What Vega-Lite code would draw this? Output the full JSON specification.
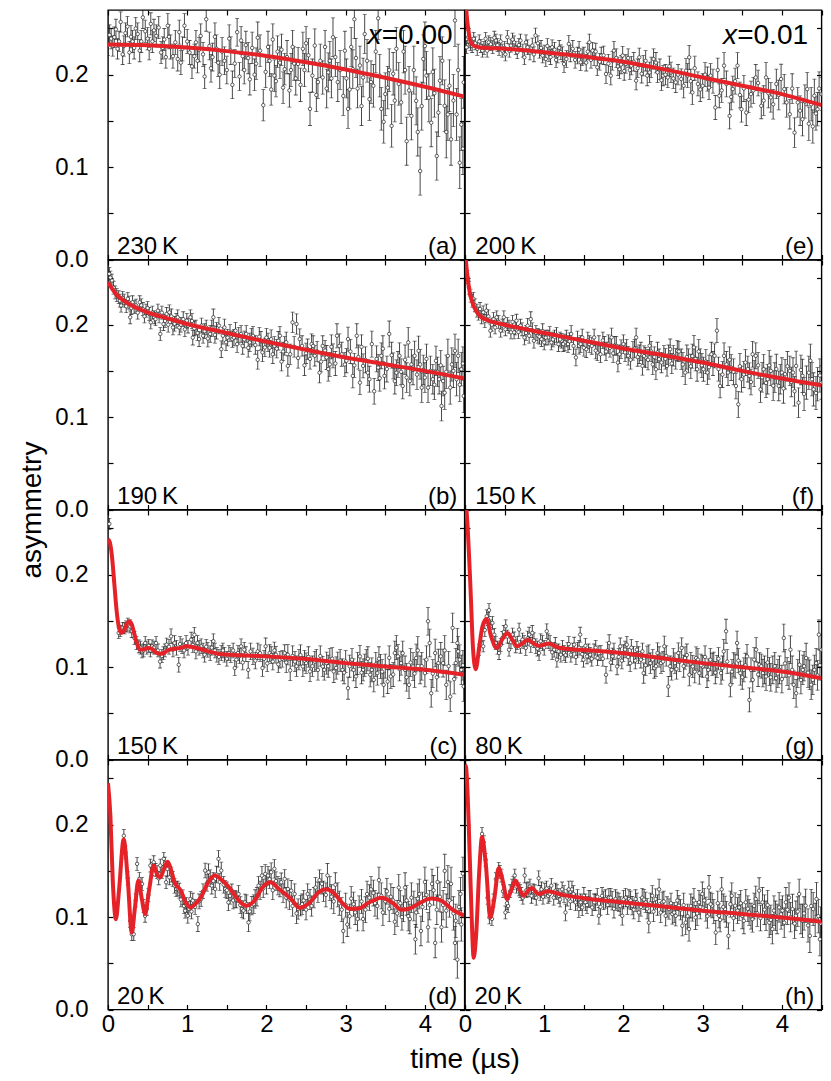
{
"$schema":"https://vega.github.io/schema/vega-lite/v6.json",
"background":"white",
"padding":{"left":17,"top":8,"right":5,"bottom":5},
"config":{
 "font":"Liberation Sans",
 "view":{"stroke":"black","strokeWidth":1.4},
 "axis":{"domain":false,"grid":false,"ticks":true,"tickSize":-5,"tickColor":"black","tickWidth":1.2,"labelFont":"Liberation Sans","labelFontSize":24,"labelColor":"black","labelFlush":false,"labelOverlap":false,"titleFont":"Liberation Sans","titleFontSize":28,"titleFontWeight":"normal","titleColor":"black"},
 "axisX":{"labelPadding":7.5},
 "axisY":{"labelPadding":25}
},
"datasets":{
"labels":[{"p":"a","temp":"230\u2009K","tag":"(a)","comp":"=0.00"},{"p":"b","temp":"190\u2009K","tag":"(b)"},{"p":"c","temp":"150\u2009K","tag":"(c)"},{"p":"d","temp":"20\u2009K","tag":"(d)"},{"p":"e","temp":"200\u2009K","tag":"(e)","comp":"=0.01"},{"p":"f","temp":"150\u2009K","tag":"(f)"},{"p":"g","temp":"80\u2009K","tag":"(g)"},{"p":"h","temp":"20\u2009K","tag":"(h)"}],
"fit":[
{"p":"a","t":0,"y":0.2326},{"p":"a","t":0.5,"y":0.2318},{"p":"a","t":1,"y":0.2294},{"p":"a","t":1.5,"y":0.2255},{"p":"a","t":2,"y":0.2202},{"p":"a","t":2.5,"y":0.2135},{"p":"a","t":3,"y":0.2057},{"p":"a","t":3.5,"y":0.1967},{"p":"a","t":4,"y":0.1869},{"p":"a","t":4.5,"y":0.1762},
{"p":"e","t":0,"y":0.30},{"p":"e","t":0.02,"y":0.266},{"p":"e","t":0.04,"y":0.25},{"p":"e","t":0.06,"y":0.239},{"p":"e","t":0.08,"y":0.234},{"p":"e","t":0.12,"y":0.231},{"p":"e","t":0.2,"y":0.2295},{"p":"e","t":0.5,"y":0.228},{"p":"e","t":1,"y":0.2243},{"p":"e","t":1.5,"y":0.2196},{"p":"e","t":2,"y":0.2141},{"p":"e","t":2.5,"y":0.206},{"p":"e","t":3,"y":0.197},{"p":"e","t":3.5,"y":0.188},{"p":"e","t":4,"y":0.179},{"p":"e","t":4.5,"y":0.167},
{"p":"b","t":0,"y":0.246},{"p":"b","t":0.1,"y":0.2333},{"p":"b","t":0.2,"y":0.226},{"p":"b","t":0.3,"y":0.2207},{"p":"b","t":0.5,"y":0.2134},{"p":"b","t":0.75,"y":0.2069},{"p":"b","t":1,"y":0.2007},{"p":"b","t":1.5,"y":0.191},{"p":"b","t":2,"y":0.1815},{"p":"b","t":2.5,"y":0.1728},{"p":"b","t":3,"y":0.1645},{"p":"b","t":3.5,"y":0.1572},{"p":"b","t":4,"y":0.15},{"p":"b","t":4.5,"y":0.1417},
{"p":"f","t":0,"y":0.28},{"p":"f","t":0.03,"y":0.253},{"p":"f","t":0.06,"y":0.235},{"p":"f","t":0.1,"y":0.2225},{"p":"f","t":0.15,"y":0.2134},{"p":"f","t":0.2,"y":0.2087},{"p":"f","t":0.3,"y":0.2043},{"p":"f","t":0.5,"y":0.2},{"p":"f","t":1,"y":0.191},{"p":"f","t":1.5,"y":0.1826},{"p":"f","t":2,"y":0.1743},{"p":"f","t":2.5,"y":0.167},{"p":"f","t":3,"y":0.159},{"p":"f","t":3.5,"y":0.15},{"p":"f","t":4,"y":0.1417},{"p":"f","t":4.5,"y":0.1344},
{"p":"c","t":0,"y":0.238},{"p":"c","t":0.02,"y":0.236},{"p":"c","t":0.05,"y":0.22},{"p":"c","t":0.08,"y":0.19},{"p":"c","t":0.11,"y":0.16},{"p":"c","t":0.14,"y":0.142},{"p":"c","t":0.17,"y":0.137},{"p":"c","t":0.2,"y":0.139},{"p":"c","t":0.24,"y":0.147},{"p":"c","t":0.27,"y":0.1496},{"p":"c","t":0.3,"y":0.146},{"p":"c","t":0.33,"y":0.137},{"p":"c","t":0.36,"y":0.127},{"p":"c","t":0.4,"y":0.119},{"p":"c","t":0.45,"y":0.119},{"p":"c","t":0.5,"y":0.1207},{"p":"c","t":0.55,"y":0.12},{"p":"c","t":0.6,"y":0.116},{"p":"c","t":0.65,"y":0.1145},{"p":"c","t":0.7,"y":0.115},{"p":"c","t":0.75,"y":0.118},{"p":"c","t":0.82,"y":0.1196},{"p":"c","t":0.9,"y":0.1205},{"p":"c","t":1,"y":0.1225},{"p":"c","t":1.1,"y":0.121},{"p":"c","t":1.2,"y":0.1188},{"p":"c","t":1.3,"y":0.1162},{"p":"c","t":1.41,"y":0.1141},{"p":"c","t":1.6,"y":0.113},{"p":"c","t":2,"y":0.1116},{"p":"c","t":2.5,"y":0.1087},{"p":"c","t":3,"y":0.1043},{"p":"c","t":3.5,"y":0.1007},{"p":"c","t":4,"y":0.0971},{"p":"c","t":4.5,"y":0.0917},
{"p":"g","t":0,"y":0.29},{"p":"g","t":0.03,"y":0.256},{"p":"g","t":0.07,"y":0.184},{"p":"g","t":0.1,"y":0.122},{"p":"g","t":0.135,"y":0.0978},{"p":"g","t":0.18,"y":0.122},{"p":"g","t":0.22,"y":0.144},{"p":"g","t":0.27,"y":0.152},{"p":"g","t":0.33,"y":0.133},{"p":"g","t":0.4,"y":0.1207},{"p":"g","t":0.47,"y":0.13},{"p":"g","t":0.535,"y":0.137},{"p":"g","t":0.6,"y":0.129},{"p":"g","t":0.66,"y":0.1225},{"p":"g","t":0.73,"y":0.126},{"p":"g","t":0.79,"y":0.1297},{"p":"g","t":0.86,"y":0.126},{"p":"g","t":0.93,"y":0.123},{"p":"g","t":1,"y":0.1245},{"p":"g","t":1.06,"y":0.1254},{"p":"g","t":1.15,"y":0.122},{"p":"g","t":1.3,"y":0.1195},{"p":"g","t":1.6,"y":0.118},{"p":"g","t":2,"y":0.115},{"p":"g","t":2.5,"y":0.1095},{"p":"g","t":3,"y":0.1043},{"p":"g","t":3.5,"y":0.0998},{"p":"g","t":4,"y":0.0953},{"p":"g","t":4.5,"y":0.088},
{"p":"d","t":0,"y":0.245},{"p":"d","t":0.03,"y":0.21},{"p":"d","t":0.06,"y":0.14},{"p":"d","t":0.1,"y":0.0978},{"p":"d","t":0.14,"y":0.13},{"p":"d","t":0.198,"y":0.184},{"p":"d","t":0.25,"y":0.14},{"p":"d","t":0.3,"y":0.0833},{"p":"d","t":0.34,"y":0.11},{"p":"d","t":0.383,"y":0.1395},{"p":"d","t":0.43,"y":0.118},{"p":"d","t":0.468,"y":0.1033},{"p":"d","t":0.52,"y":0.13},{"p":"d","t":0.577,"y":0.1558},{"p":"d","t":0.62,"y":0.146},{"p":"d","t":0.66,"y":0.143},{"p":"d","t":0.71,"y":0.153},{"p":"d","t":0.754,"y":0.16},{"p":"d","t":0.8,"y":0.15},{"p":"d","t":0.84,"y":0.1377},{"p":"d","t":0.92,"y":0.1286},{"p":"d","t":0.98,"y":0.116},{"p":"d","t":1.04,"y":0.1105},{"p":"d","t":1.1,"y":0.114},{"p":"d","t":1.18,"y":0.1225},{"p":"d","t":1.26,"y":0.137},{"p":"d","t":1.345,"y":0.145},{"p":"d","t":1.45,"y":0.139},{"p":"d","t":1.55,"y":0.13},{"p":"d","t":1.65,"y":0.118},{"p":"d","t":1.745,"y":0.1123},{"p":"d","t":1.85,"y":0.118},{"p":"d","t":1.95,"y":0.132},{"p":"d","t":2.05,"y":0.1377},{"p":"d","t":2.15,"y":0.131},{"p":"d","t":2.31,"y":0.1196},{"p":"d","t":2.42,"y":0.11},{"p":"d","t":2.55,"y":0.116},{"p":"d","t":2.65,"y":0.126},{"p":"d","t":2.75,"y":0.13},{"p":"d","t":2.85,"y":0.126},{"p":"d","t":2.95,"y":0.116},{"p":"d","t":3.05,"y":0.109},{"p":"d","t":3.15,"y":0.109},{"p":"d","t":3.3,"y":0.116},{"p":"d","t":3.45,"y":0.121},{"p":"d","t":3.6,"y":0.115},{"p":"d","t":3.7,"y":0.108},{"p":"d","t":3.8,"y":0.109},{"p":"d","t":3.95,"y":0.116},{"p":"d","t":4.08,"y":0.12},{"p":"d","t":4.2,"y":0.118},{"p":"d","t":4.35,"y":0.108},{"p":"d","t":4.5,"y":0.1016},
{"p":"h","t":0,"y":0.2645},{"p":"h","t":0.013,"y":0.2627},{"p":"h","t":0.046,"y":0.203},{"p":"h","t":0.08,"y":0.11},{"p":"h","t":0.11,"y":0.056},{"p":"h","t":0.14,"y":0.08},{"p":"h","t":0.18,"y":0.15},{"p":"h","t":0.215,"y":0.1866},{"p":"h","t":0.26,"y":0.16},{"p":"h","t":0.32,"y":0.0996},{"p":"h","t":0.37,"y":0.12},{"p":"h","t":0.426,"y":0.153},{"p":"h","t":0.48,"y":0.138},{"p":"h","t":0.53,"y":0.1196},{"p":"h","t":0.58,"y":0.128},{"p":"h","t":0.636,"y":0.1395},{"p":"h","t":0.69,"y":0.13},{"p":"h","t":0.74,"y":0.123},{"p":"h","t":0.79,"y":0.128},{"p":"h","t":0.84,"y":0.1315},{"p":"h","t":0.93,"y":0.125},{"p":"h","t":1.04,"y":0.128},{"p":"h","t":1.23,"y":0.124},{"p":"h","t":1.5,"y":0.1205},{"p":"h","t":1.98,"y":0.116},{"p":"h","t":2.5,"y":0.1115},{"p":"h","t":3,"y":0.1069},{"p":"h","t":3.5,"y":0.1033},{"p":"h","t":4,"y":0.0996},{"p":"h","t":4.5,"y":0.095}
],
"pts":[
{"p":"a","t":0.0,"y":0.232,"e":0.011},{"p":"a","t":0.04,"y":0.239,"e":0.011},{"p":"a","t":0.08,"y":0.2406,"e":0.011},{"p":"a","t":0.12,"y":0.228,"e":0.011},{"p":"a","t":0.16,"y":0.257,"e":0.011},{"p":"a","t":0.185,"y":0.222,"e":0.011},{"p":"a","t":0.22,"y":0.245,"e":0.011},{"p":"a","t":0.27,"y":0.224,"e":0.012},{"p":"a","t":0.31,"y":0.236,"e":0.012},{"p":"a","t":0.35,"y":0.25,"e":0.012},{"p":"a","t":0.4,"y":0.226,"e":0.012},{"p":"a","t":0.44,"y":0.262,"e":0.012},{"p":"a","t":0.5,"y":0.239,"e":0.012},{"p":"a","t":0.54,"y":0.255,"e":0.012},{"p":"a","t":0.58,"y":0.248,"e":0.012},{"p":"a","t":0.61,"y":0.242,"e":0.012},{"p":"a","t":0.67,"y":0.224,"e":0.012},{"p":"a","t":0.71,"y":0.238,"e":0.012},{"p":"a","t":0.755,"y":0.253,"e":0.013},{"p":"a","t":0.79,"y":0.23,"e":0.013},{"p":"a","t":0.82,"y":0.22,"e":0.013},{"p":"a","t":0.88,"y":0.217,"e":0.013},{"p":"a","t":0.92,"y":0.213,"e":0.013},{"p":"a","t":0.965,"y":0.253,"e":0.013},{"p":"a","t":1.0,"y":0.236,"e":0.013},{"p":"a","t":1.03,"y":0.224,"e":0.013},{"p":"a","t":1.09,"y":0.22,"e":0.013},{"p":"a","t":1.13,"y":0.215,"e":0.013},{"p":"a","t":1.17,"y":0.242,"e":0.013},{"p":"a","t":1.22,"y":0.198,"e":0.013},{"p":"a","t":1.24,"y":0.26,"e":0.013},{"p":"a","t":1.32,"y":0.219,"e":0.015},{"p":"a","t":1.37,"y":0.228,"e":0.015},{"p":"a","t":1.41,"y":0.2,"e":0.015},{"p":"a","t":1.47,"y":0.215,"e":0.015},{"p":"a","t":1.53,"y":0.239,"e":0.015},{"p":"a","t":1.57,"y":0.189,"e":0.015},{"p":"a","t":1.63,"y":0.246,"e":0.015},{"p":"a","t":1.66,"y":0.198,"e":0.015},{"p":"a","t":1.7,"y":0.22,"e":0.015},{"p":"a","t":1.74,"y":0.232,"e":0.015},{"p":"a","t":1.79,"y":0.195,"e":0.017},{"p":"a","t":1.85,"y":0.2,"e":0.017},{"p":"a","t":1.89,"y":0.24,"e":0.017},{"p":"a","t":1.96,"y":0.167,"e":0.017},{"p":"a","t":2.02,"y":0.23,"e":0.017},{"p":"a","t":2.06,"y":0.184,"e":0.017},{"p":"a","t":2.1,"y":0.199,"e":0.017},{"p":"a","t":2.14,"y":0.225,"e":0.017},{"p":"a","t":2.17,"y":0.213,"e":0.017},{"p":"a","t":2.23,"y":0.206,"e":0.017},{"p":"a","t":2.29,"y":0.183,"e":0.018},{"p":"a","t":2.33,"y":0.23,"e":0.018},{"p":"a","t":2.37,"y":0.196,"e":0.018},{"p":"a","t":2.4,"y":0.2116,"e":0.018},{"p":"a","t":2.46,"y":0.228,"e":0.018},{"p":"a","t":2.5,"y":0.234,"e":0.018},{"p":"a","t":2.55,"y":0.163,"e":0.018},{"p":"a","t":2.61,"y":0.2315,"e":0.018},{"p":"a","t":2.65,"y":0.192,"e":0.018},{"p":"a","t":2.71,"y":0.197,"e":0.018},{"p":"a","t":2.78,"y":0.2025,"e":0.021},{"p":"a","t":2.8,"y":0.215,"e":0.021},{"p":"a","t":2.84,"y":0.2405,"e":0.021},{"p":"a","t":2.9,"y":0.192,"e":0.021},{"p":"a","t":2.97,"y":0.177,"e":0.021},{"p":"a","t":3.03,"y":0.163,"e":0.021},{"p":"a","t":3.07,"y":0.23,"e":0.021},{"p":"a","t":3.11,"y":0.26,"e":0.021},{"p":"a","t":3.15,"y":0.185,"e":0.021},{"p":"a","t":3.18,"y":0.21,"e":0.021},{"p":"a","t":3.24,"y":0.244,"e":0.021},{"p":"a","t":3.3,"y":0.1735,"e":0.023},{"p":"a","t":3.35,"y":0.188,"e":0.023},{"p":"a","t":3.41,"y":0.261,"e":0.023},{"p":"a","t":3.45,"y":0.163,"e":0.023},{"p":"a","t":3.5,"y":0.179,"e":0.023},{"p":"a","t":3.55,"y":0.205,"e":0.023},{"p":"a","t":3.58,"y":0.1446,"e":0.023},{"p":"a","t":3.64,"y":0.228,"e":0.023},{"p":"a","t":3.7,"y":0.17,"e":0.023},{"p":"a","t":3.73,"y":0.225,"e":0.023},{"p":"a","t":3.77,"y":0.128,"e":0.026},{"p":"a","t":3.83,"y":0.1554,"e":0.026},{"p":"a","t":3.89,"y":0.1717,"e":0.026},{"p":"a","t":3.94,"y":0.0957,"e":0.026},{"p":"a","t":3.98,"y":0.217,"e":0.026},{"p":"a","t":4.02,"y":0.199,"e":0.026},{"p":"a","t":4.08,"y":0.148,"e":0.026},{"p":"a","t":4.12,"y":0.18,"e":0.026},{"p":"a","t":4.15,"y":0.112,"e":0.026},{"p":"a","t":4.19,"y":0.1935,"e":0.026},{"p":"a","t":4.25,"y":0.1663,"e":0.028},{"p":"a","t":4.29,"y":0.157,"e":0.028},{"p":"a","t":4.33,"y":0.13,"e":0.028},{"p":"a","t":4.38,"y":0.2587,"e":0.028},{"p":"a","t":4.4,"y":0.157,"e":0.028},{"p":"a","t":4.44,"y":0.1047,"e":0.028},{"p":"a","t":4.49,"y":0.1917,"e":0.028},
{"p":"a","t":0.02,"y":0.243,"e":0.011},{"p":"a","t":0.06,"y":0.231,"e":0.011},{"p":"a","t":0.1,"y":0.249,"e":0.011},{"p":"a","t":0.14,"y":0.236,"e":0.011},{"p":"a","t":0.2,"y":0.231,"e":0.011},{"p":"a","t":0.245,"y":0.252,"e":0.011},{"p":"a","t":0.29,"y":0.241,"e":0.012},{"p":"a","t":0.33,"y":0.229,"e":0.012},{"p":"a","t":0.375,"y":0.244,"e":0.012},{"p":"a","t":0.42,"y":0.236,"e":0.012},{"p":"a","t":0.47,"y":0.247,"e":0.012},{"p":"a","t":0.52,"y":0.228,"e":0.012},{"p":"a","t":0.56,"y":0.236,"e":0.012},{"p":"a","t":0.64,"y":0.251,"e":0.012},{"p":"a","t":0.69,"y":0.229,"e":0.012},{"p":"a","t":0.73,"y":0.219,"e":0.012},{"p":"a","t":0.77,"y":0.241,"e":0.013},{"p":"a","t":0.85,"y":0.235,"e":0.013},{"p":"a","t":0.9,"y":0.246,"e":0.013},{"p":"a","t":0.94,"y":0.228,"e":0.013},{"p":"a","t":1.06,"y":0.209,"e":0.013},{"p":"a","t":1.11,"y":0.235,"e":0.013},{"p":"a","t":1.15,"y":0.227,"e":0.013},{"p":"a","t":1.2,"y":0.222,"e":0.013},{"p":"a","t":1.28,"y":0.231,"e":0.015},{"p":"a","t":1.3,"y":0.207,"e":0.015},{"p":"a","t":1.35,"y":0.241,"e":0.015},{"p":"a","t":1.39,"y":0.213,"e":0.015},{"p":"a","t":1.44,"y":0.225,"e":0.015},{"p":"a","t":1.5,"y":0.205,"e":0.015},{"p":"a","t":1.55,"y":0.226,"e":0.015},{"p":"a","t":1.6,"y":0.212,"e":0.015},{"p":"a","t":1.68,"y":0.237,"e":0.015},{"p":"a","t":1.72,"y":0.205,"e":0.015},{"p":"a","t":1.77,"y":0.218,"e":0.017},{"p":"a","t":1.82,"y":0.229,"e":0.017},{"p":"a","t":1.87,"y":0.212,"e":0.017},{"p":"a","t":1.92,"y":0.226,"e":0.017},{"p":"a","t":1.99,"y":0.203,"e":0.017},{"p":"a","t":2.04,"y":0.215,"e":0.017},{"p":"a","t":2.08,"y":0.238,"e":0.017},{"p":"a","t":2.12,"y":0.193,"e":0.017},{"p":"a","t":2.19,"y":0.227,"e":0.017},{"p":"a","t":2.21,"y":0.186,"e":0.017},{"p":"a","t":2.26,"y":0.219,"e":0.018},{"p":"a","t":2.31,"y":0.205,"e":0.018},{"p":"a","t":2.35,"y":0.212,"e":0.018},{"p":"a","t":2.43,"y":0.189,"e":0.018},{"p":"a","t":2.48,"y":0.205,"e":0.018},{"p":"a","t":2.53,"y":0.221,"e":0.018},{"p":"a","t":2.58,"y":0.199,"e":0.018},{"p":"a","t":2.63,"y":0.178,"e":0.018},{"p":"a","t":2.68,"y":0.215,"e":0.018},{"p":"a","t":2.74,"y":0.23,"e":0.018},{"p":"a","t":2.76,"y":0.185,"e":0.021},{"p":"a","t":2.82,"y":0.196,"e":0.021},{"p":"a","t":2.87,"y":0.219,"e":0.021},{"p":"a","t":2.93,"y":0.205,"e":0.021},{"p":"a","t":2.99,"y":0.226,"e":0.021},{"p":"a","t":3.01,"y":0.196,"e":0.021},{"p":"a","t":3.05,"y":0.184,"e":0.021},{"p":"a","t":3.09,"y":0.206,"e":0.021},{"p":"a","t":3.13,"y":0.218,"e":0.021},{"p":"a","t":3.2,"y":0.166,"e":0.021},{"p":"a","t":3.22,"y":0.197,"e":0.021},{"p":"a","t":3.27,"y":0.215,"e":0.023},{"p":"a","t":3.32,"y":0.192,"e":0.023},{"p":"a","t":3.38,"y":0.225,"e":0.023},{"p":"a","t":3.43,"y":0.199,"e":0.023},{"p":"a","t":3.48,"y":0.149,"e":0.023},{"p":"a","t":3.53,"y":0.186,"e":0.023},{"p":"a","t":3.6,"y":0.201,"e":0.023},{"p":"a","t":3.62,"y":0.172,"e":0.023},{"p":"a","t":3.67,"y":0.19,"e":0.023},{"p":"a","t":3.75,"y":0.205,"e":0.026},{"p":"a","t":3.8,"y":0.183,"e":0.026},{"p":"a","t":3.86,"y":0.205,"e":0.026},{"p":"a","t":3.91,"y":0.138,"e":0.026},{"p":"a","t":3.96,"y":0.166,"e":0.026},{"p":"a","t":4.0,"y":0.231,"e":0.026},{"p":"a","t":4.05,"y":0.175,"e":0.026},{"p":"a","t":4.1,"y":0.203,"e":0.026},{"p":"a","t":4.17,"y":0.159,"e":0.026},{"p":"a","t":4.22,"y":0.215,"e":0.026},{"p":"a","t":4.27,"y":0.138,"e":0.028},{"p":"a","t":4.31,"y":0.188,"e":0.028},{"p":"a","t":4.36,"y":0.172,"e":0.028},{"p":"a","t":4.42,"y":0.205,"e":0.028},{"p":"a","t":4.46,"y":0.146,"e":0.028},{"p":"a","t":4.48,"y":0.12,"e":0.028},
{"p":"e","t":0.02,"y":0.2297,"e":0.007},{"p":"e","t":0.04,"y":0.2406,"e":0.007},{"p":"e","t":0.07,"y":0.2333,"e":0.007},{"p":"e","t":0.11,"y":0.2388,"e":0.007},{"p":"e","t":0.155,"y":0.228,"e":0.007},{"p":"e","t":0.22,"y":0.226,"e":0.007},{"p":"e","t":0.26,"y":0.2388,"e":0.007},{"p":"e","t":0.3,"y":0.235,"e":0.007},{"p":"e","t":0.35,"y":0.2297,"e":0.007},{"p":"e","t":0.39,"y":0.237,"e":0.007},{"p":"e","t":0.43,"y":0.228,"e":0.007},{"p":"e","t":0.47,"y":0.226,"e":0.007},{"p":"e","t":0.535,"y":0.2406,"e":0.007},{"p":"e","t":0.58,"y":0.2315,"e":0.007},{"p":"e","t":0.62,"y":0.235,"e":0.007},{"p":"e","t":0.66,"y":0.2243,"e":0.007},{"p":"e","t":0.7,"y":0.237,"e":0.007},{"p":"e","t":0.75,"y":0.2188,"e":0.008},{"p":"e","t":0.79,"y":0.2297,"e":0.008},{"p":"e","t":0.85,"y":0.2315,"e":0.008},{"p":"e","t":0.89,"y":0.2424,"e":0.008},{"p":"e","t":0.94,"y":0.226,"e":0.008},{"p":"e","t":0.98,"y":0.2207,"e":0.008},{"p":"e","t":1.02,"y":0.217,"e":0.008},{"p":"e","t":1.06,"y":0.2225,"e":0.008},{"p":"e","t":1.1,"y":0.2297,"e":0.008},{"p":"e","t":1.17,"y":0.2207,"e":0.008},{"p":"e","t":1.21,"y":0.2243,"e":0.008},{"p":"e","t":1.25,"y":0.2116,"e":0.009},{"p":"e","t":1.31,"y":0.2333,"e":0.009},{"p":"e","t":1.36,"y":0.228,"e":0.009},{"p":"e","t":1.42,"y":0.2207,"e":0.009},{"p":"e","t":1.46,"y":0.2134,"e":0.009},{"p":"e","t":1.5,"y":0.2207,"e":0.009},{"p":"e","t":1.57,"y":0.235,"e":0.009},{"p":"e","t":1.61,"y":0.226,"e":0.009},{"p":"e","t":1.67,"y":0.208,"e":0.009},{"p":"e","t":1.72,"y":0.2207,"e":0.009},{"p":"e","t":1.78,"y":0.2007,"e":0.01},{"p":"e","t":1.84,"y":0.199,"e":0.01},{"p":"e","t":1.88,"y":0.226,"e":0.01},{"p":"e","t":1.95,"y":0.206,"e":0.01},{"p":"e","t":1.99,"y":0.2207,"e":0.01},{"p":"e","t":2.03,"y":0.2116,"e":0.01},{"p":"e","t":2.1,"y":0.2098,"e":0.01},{"p":"e","t":2.16,"y":0.1935,"e":0.01},{"p":"e","t":2.2,"y":0.2188,"e":0.01},{"p":"e","t":2.25,"y":0.2098,"e":0.011},{"p":"e","t":2.33,"y":0.2025,"e":0.011},{"p":"e","t":2.38,"y":0.217,"e":0.011},{"p":"e","t":2.43,"y":0.2025,"e":0.011},{"p":"e","t":2.5,"y":0.199,"e":0.011},{"p":"e","t":2.56,"y":0.197,"e":0.011},{"p":"e","t":2.6,"y":0.2025,"e":0.011},{"p":"e","t":2.66,"y":0.1917,"e":0.011},{"p":"e","t":2.73,"y":0.1953,"e":0.011},{"p":"e","t":2.79,"y":0.2043,"e":0.013},{"p":"e","t":2.83,"y":0.2188,"e":0.013},{"p":"e","t":2.87,"y":0.1808,"e":0.013},{"p":"e","t":2.94,"y":0.19,"e":0.013},{"p":"e","t":3.0,"y":0.188,"e":0.013},{"p":"e","t":3.06,"y":0.1953,"e":0.013},{"p":"e","t":3.1,"y":0.199,"e":0.013},{"p":"e","t":3.16,"y":0.1645,"e":0.013},{"p":"e","t":3.21,"y":0.1772,"e":0.013},{"p":"e","t":3.27,"y":0.2098,"e":0.014},{"p":"e","t":3.34,"y":0.1554,"e":0.014},{"p":"e","t":3.38,"y":0.1844,"e":0.014},{"p":"e","t":3.44,"y":0.2098,"e":0.014},{"p":"e","t":3.49,"y":0.1627,"e":0.014},{"p":"e","t":3.55,"y":0.159,"e":0.014},{"p":"e","t":3.61,"y":0.179,"e":0.014},{"p":"e","t":3.67,"y":0.197,"e":0.014},{"p":"e","t":3.74,"y":0.1663,"e":0.014},{"p":"e","t":3.8,"y":0.197,"e":0.016},{"p":"e","t":3.86,"y":0.1754,"e":0.016},{"p":"e","t":3.93,"y":0.19,"e":0.016},{"p":"e","t":3.99,"y":0.1953,"e":0.016},{"p":"e","t":4.03,"y":0.1844,"e":0.016},{"p":"e","t":4.1,"y":0.1572,"e":0.016},{"p":"e","t":4.16,"y":0.1373,"e":0.016},{"p":"e","t":4.2,"y":0.17,"e":0.016},{"p":"e","t":4.26,"y":0.1518,"e":0.018},{"p":"e","t":4.32,"y":0.1844,"e":0.018},{"p":"e","t":4.37,"y":0.168,"e":0.018},{"p":"e","t":4.41,"y":0.1772,"e":0.018},{"p":"e","t":4.45,"y":0.1627,"e":0.018},{"p":"e","t":4.5,"y":0.179,"e":0.018},
{"p":"e","t":0.05,"y":0.236,"e":0.007},{"p":"e","t":0.09,"y":0.231,"e":0.007},{"p":"e","t":0.13,"y":0.234,"e":0.007},{"p":"e","t":0.18,"y":0.236,"e":0.007},{"p":"e","t":0.2,"y":0.231,"e":0.007},{"p":"e","t":0.24,"y":0.229,"e":0.007},{"p":"e","t":0.28,"y":0.226,"e":0.007},{"p":"e","t":0.325,"y":0.233,"e":0.007},{"p":"e","t":0.37,"y":0.24,"e":0.007},{"p":"e","t":0.41,"y":0.232,"e":0.007},{"p":"e","t":0.45,"y":0.236,"e":0.007},{"p":"e","t":0.5,"y":0.229,"e":0.007},{"p":"e","t":0.51,"y":0.222,"e":0.007},{"p":"e","t":0.56,"y":0.226,"e":0.007},{"p":"e","t":0.6,"y":0.238,"e":0.007},{"p":"e","t":0.64,"y":0.229,"e":0.007},{"p":"e","t":0.68,"y":0.232,"e":0.007},{"p":"e","t":0.73,"y":0.226,"e":0.007},{"p":"e","t":0.77,"y":0.235,"e":0.008},{"p":"e","t":0.82,"y":0.224,"e":0.008},{"p":"e","t":0.87,"y":0.222,"e":0.008},{"p":"e","t":0.92,"y":0.234,"e":0.008},{"p":"e","t":0.96,"y":0.229,"e":0.008},{"p":"e","t":1.0,"y":0.224,"e":0.008},{"p":"e","t":1.04,"y":0.231,"e":0.008},{"p":"e","t":1.08,"y":0.219,"e":0.008},{"p":"e","t":1.13,"y":0.227,"e":0.008},{"p":"e","t":1.15,"y":0.216,"e":0.008},{"p":"e","t":1.19,"y":0.229,"e":0.008},{"p":"e","t":1.23,"y":0.222,"e":0.008},{"p":"e","t":1.28,"y":0.217,"e":0.009},{"p":"e","t":1.33,"y":0.223,"e":0.009},{"p":"e","t":1.39,"y":0.216,"e":0.009},{"p":"e","t":1.44,"y":0.227,"e":0.009},{"p":"e","t":1.48,"y":0.219,"e":0.009},{"p":"e","t":1.53,"y":0.213,"e":0.009},{"p":"e","t":1.55,"y":0.225,"e":0.009},{"p":"e","t":1.59,"y":0.216,"e":0.009},{"p":"e","t":1.63,"y":0.219,"e":0.009},{"p":"e","t":1.65,"y":0.225,"e":0.009},{"p":"e","t":1.7,"y":0.214,"e":0.009},{"p":"e","t":1.75,"y":0.221,"e":0.01},{"p":"e","t":1.81,"y":0.212,"e":0.01},{"p":"e","t":1.86,"y":0.215,"e":0.01},{"p":"e","t":1.91,"y":0.218,"e":0.01},{"p":"e","t":1.93,"y":0.209,"e":0.01},{"p":"e","t":1.97,"y":0.211,"e":0.01},{"p":"e","t":2.01,"y":0.204,"e":0.01},{"p":"e","t":2.06,"y":0.218,"e":0.01},{"p":"e","t":2.08,"y":0.205,"e":0.01},{"p":"e","t":2.13,"y":0.214,"e":0.01},{"p":"e","t":2.18,"y":0.207,"e":0.01},{"p":"e","t":2.23,"y":0.201,"e":0.01},{"p":"e","t":2.28,"y":0.215,"e":0.011},{"p":"e","t":2.3,"y":0.199,"e":0.011},{"p":"e","t":2.35,"y":0.208,"e":0.011},{"p":"e","t":2.41,"y":0.213,"e":0.011},{"p":"e","t":2.46,"y":0.206,"e":0.011},{"p":"e","t":2.48,"y":0.194,"e":0.011},{"p":"e","t":2.53,"y":0.2,"e":0.011},{"p":"e","t":2.58,"y":0.209,"e":0.011},{"p":"e","t":2.63,"y":0.196,"e":0.011},{"p":"e","t":2.69,"y":0.2,"e":0.011},{"p":"e","t":2.76,"y":0.188,"e":0.013},{"p":"e","t":2.81,"y":0.199,"e":0.013},{"p":"e","t":2.85,"y":0.193,"e":0.013},{"p":"e","t":2.9,"y":0.207,"e":0.013},{"p":"e","t":2.97,"y":0.184,"e":0.013},{"p":"e","t":3.03,"y":0.2,"e":0.013},{"p":"e","t":3.08,"y":0.186,"e":0.013},{"p":"e","t":3.13,"y":0.193,"e":0.013},{"p":"e","t":3.19,"y":0.205,"e":0.013},{"p":"e","t":3.24,"y":0.183,"e":0.013},{"p":"e","t":3.3,"y":0.19,"e":0.014},{"p":"e","t":3.36,"y":0.176,"e":0.014},{"p":"e","t":3.41,"y":0.193,"e":0.014},{"p":"e","t":3.47,"y":0.178,"e":0.014},{"p":"e","t":3.52,"y":0.185,"e":0.014},{"p":"e","t":3.58,"y":0.173,"e":0.014},{"p":"e","t":3.64,"y":0.183,"e":0.014},{"p":"e","t":3.7,"y":0.191,"e":0.014},{"p":"e","t":3.77,"y":0.172,"e":0.016},{"p":"e","t":3.83,"y":0.18,"e":0.016},{"p":"e","t":3.89,"y":0.168,"e":0.016},{"p":"e","t":3.96,"y":0.178,"e":0.016},{"p":"e","t":4.06,"y":0.17,"e":0.016},{"p":"e","t":4.13,"y":0.185,"e":0.016},{"p":"e","t":4.23,"y":0.161,"e":0.016},{"p":"e","t":4.29,"y":0.171,"e":0.018},{"p":"e","t":4.34,"y":0.147,"e":0.018},{"p":"e","t":4.39,"y":0.144,"e":0.018},{"p":"e","t":4.43,"y":0.158,"e":0.018},{"p":"e","t":4.47,"y":0.185,"e":0.018},
{"p":"b","t":0.017,"y":0.255,"e":0.007},{"p":"b","t":0.05,"y":0.2478,"e":0.007},{"p":"b","t":0.09,"y":0.235,"e":0.007},{"p":"b","t":0.135,"y":0.2297,"e":0.007},{"p":"b","t":0.165,"y":0.2207,"e":0.007},{"p":"b","t":0.205,"y":0.226,"e":0.007},{"p":"b","t":0.25,"y":0.228,"e":0.007},{"p":"b","t":0.28,"y":0.208,"e":0.007},{"p":"b","t":0.31,"y":0.2243,"e":0.007},{"p":"b","t":0.354,"y":0.2207,"e":0.007},{"p":"b","t":0.4,"y":0.2243,"e":0.007},{"p":"b","t":0.44,"y":0.217,"e":0.007},{"p":"b","t":0.48,"y":0.2152,"e":0.007},{"p":"b","t":0.52,"y":0.2116,"e":0.007},{"p":"b","t":0.54,"y":0.2025,"e":0.007},{"p":"b","t":0.585,"y":0.208,"e":0.007},{"p":"b","t":0.63,"y":0.2152,"e":0.007},{"p":"b","t":0.66,"y":0.19,"e":0.007},{"p":"b","t":0.7,"y":0.2007,"e":0.007},{"p":"b","t":0.74,"y":0.2116,"e":0.007},{"p":"b","t":0.775,"y":0.2134,"e":0.008},{"p":"b","t":0.82,"y":0.197,"e":0.008},{"p":"b","t":0.86,"y":0.2043,"e":0.008},{"p":"b","t":0.9,"y":0.197,"e":0.008},{"p":"b","t":0.95,"y":0.206,"e":0.008},{"p":"b","t":0.995,"y":0.2043,"e":0.008},{"p":"b","t":1.04,"y":0.208,"e":0.008},{"p":"b","t":1.07,"y":0.186,"e":0.008},{"p":"b","t":1.11,"y":0.197,"e":0.008},{"p":"b","t":1.15,"y":0.1844,"e":0.008},{"p":"b","t":1.2,"y":0.188,"e":0.008},{"p":"b","t":1.24,"y":0.197,"e":0.008},{"p":"b","t":1.29,"y":0.19,"e":0.009},{"p":"b","t":1.33,"y":0.208,"e":0.009},{"p":"b","t":1.37,"y":0.1935,"e":0.009},{"p":"b","t":1.43,"y":0.1735,"e":0.009},{"p":"b","t":1.47,"y":0.197,"e":0.009},{"p":"b","t":1.51,"y":0.186,"e":0.009},{"p":"b","t":1.57,"y":0.1844,"e":0.009},{"p":"b","t":1.61,"y":0.1935,"e":0.009},{"p":"b","t":1.65,"y":0.188,"e":0.009},{"p":"b","t":1.7,"y":0.177,"e":0.009},{"p":"b","t":1.745,"y":0.19,"e":0.009},{"p":"b","t":1.79,"y":0.1808,"e":0.01},{"p":"b","t":1.83,"y":0.188,"e":0.01},{"p":"b","t":1.89,"y":0.162,"e":0.01},{"p":"b","t":1.93,"y":0.1826,"e":0.01},{"p":"b","t":1.98,"y":0.1754,"e":0.01},{"p":"b","t":2.02,"y":0.1808,"e":0.01},{"p":"b","t":2.06,"y":0.1844,"e":0.01},{"p":"b","t":2.1,"y":0.177,"e":0.01},{"p":"b","t":2.15,"y":0.1826,"e":0.01},{"p":"b","t":2.19,"y":0.16,"e":0.01},{"p":"b","t":2.23,"y":0.177,"e":0.01},{"p":"b","t":2.27,"y":0.1554,"e":0.011},{"p":"b","t":2.33,"y":0.2025,"e":0.011},{"p":"b","t":2.38,"y":0.2007,"e":0.011},{"p":"b","t":2.42,"y":0.1844,"e":0.011},{"p":"b","t":2.48,"y":0.156,"e":0.011},{"p":"b","t":2.52,"y":0.1735,"e":0.011},{"p":"b","t":2.57,"y":0.179,"e":0.011},{"p":"b","t":2.61,"y":0.1663,"e":0.011},{"p":"b","t":2.67,"y":0.148,"e":0.011},{"p":"b","t":2.71,"y":0.177,"e":0.011},{"p":"b","t":2.76,"y":0.1645,"e":0.013},{"p":"b","t":2.8,"y":0.157,"e":0.013},{"p":"b","t":2.84,"y":0.1663,"e":0.013},{"p":"b","t":2.89,"y":0.188,"e":0.013},{"p":"b","t":2.92,"y":0.177,"e":0.013},{"p":"b","t":2.99,"y":0.157,"e":0.013},{"p":"b","t":3.03,"y":0.1844,"e":0.013},{"p":"b","t":3.09,"y":0.1446,"e":0.013},{"p":"b","t":3.14,"y":0.188,"e":0.013},{"p":"b","t":3.18,"y":0.1373,"e":0.013},{"p":"b","t":3.22,"y":0.1554,"e":0.013},{"p":"b","t":3.28,"y":0.148,"e":0.014},{"p":"b","t":3.33,"y":0.179,"e":0.014},{"p":"b","t":3.36,"y":0.128,"e":0.014},{"p":"b","t":3.41,"y":0.1536,"e":0.014},{"p":"b","t":3.45,"y":0.1663,"e":0.014},{"p":"b","t":3.49,"y":0.1446,"e":0.014},{"p":"b","t":3.55,"y":0.19,"e":0.014},{"p":"b","t":3.6,"y":0.1554,"e":0.014},{"p":"b","t":3.64,"y":0.148,"e":0.014},{"p":"b","t":3.68,"y":0.1663,"e":0.014},{"p":"b","t":3.72,"y":0.1337,"e":0.014},{"p":"b","t":3.77,"y":0.1428,"e":0.016},{"p":"b","t":3.79,"y":0.1808,"e":0.016},{"p":"b","t":3.83,"y":0.157,"e":0.016},{"p":"b","t":3.87,"y":0.1663,"e":0.016},{"p":"b","t":3.92,"y":0.1717,"e":0.016},{"p":"b","t":3.96,"y":0.1319,"e":0.016},{"p":"b","t":4.0,"y":0.1428,"e":0.016},{"p":"b","t":4.04,"y":0.1319,"e":0.016},{"p":"b","t":4.1,"y":0.141,"e":0.016},{"p":"b","t":4.14,"y":0.1609,"e":0.016},{"p":"b","t":4.18,"y":0.141,"e":0.016},{"p":"b","t":4.21,"y":0.112,"e":0.016},{"p":"b","t":4.25,"y":0.1264,"e":0.018},{"p":"b","t":4.29,"y":0.1663,"e":0.018},{"p":"b","t":4.34,"y":0.157,"e":0.018},{"p":"b","t":4.38,"y":0.1717,"e":0.018},{"p":"b","t":4.42,"y":0.1663,"e":0.018},{"p":"b","t":4.46,"y":0.1518,"e":0.018},{"p":"b","t":4.49,"y":0.1228,"e":0.018},
{"p":"b","t":0.03,"y":0.251,"e":0.007},{"p":"b","t":0.07,"y":0.24,"e":0.007},{"p":"b","t":0.11,"y":0.232,"e":0.007},{"p":"b","t":0.15,"y":0.226,"e":0.007},{"p":"b","t":0.185,"y":0.229,"e":0.007},{"p":"b","t":0.23,"y":0.22,"e":0.007},{"p":"b","t":0.265,"y":0.224,"e":0.007},{"p":"b","t":0.295,"y":0.218,"e":0.007},{"p":"b","t":0.33,"y":0.219,"e":0.007},{"p":"b","t":0.375,"y":0.213,"e":0.007},{"p":"b","t":0.42,"y":0.221,"e":0.007},{"p":"b","t":0.46,"y":0.209,"e":0.007},{"p":"b","t":0.5,"y":0.218,"e":0.007},{"p":"b","t":0.56,"y":0.213,"e":0.007},{"p":"b","t":0.6,"y":0.206,"e":0.007},{"p":"b","t":0.645,"y":0.209,"e":0.007},{"p":"b","t":0.68,"y":0.213,"e":0.007},{"p":"b","t":0.72,"y":0.204,"e":0.007},{"p":"b","t":0.76,"y":0.2,"e":0.008},{"p":"b","t":0.8,"y":0.209,"e":0.008},{"p":"b","t":0.84,"y":0.201,"e":0.008},{"p":"b","t":0.88,"y":0.208,"e":0.008},{"p":"b","t":0.92,"y":0.2,"e":0.008},{"p":"b","t":0.97,"y":0.195,"e":0.008},{"p":"b","t":1.01,"y":0.199,"e":0.008},{"p":"b","t":1.06,"y":0.204,"e":0.008},{"p":"b","t":1.09,"y":0.196,"e":0.008},{"p":"b","t":1.13,"y":0.191,"e":0.008},{"p":"b","t":1.18,"y":0.199,"e":0.008},{"p":"b","t":1.22,"y":0.193,"e":0.008},{"p":"b","t":1.26,"y":0.185,"e":0.009},{"p":"b","t":1.31,"y":0.196,"e":0.009},{"p":"b","t":1.35,"y":0.189,"e":0.009},{"p":"b","t":1.4,"y":0.199,"e":0.009},{"p":"b","t":1.45,"y":0.188,"e":0.009},{"p":"b","t":1.49,"y":0.181,"e":0.009},{"p":"b","t":1.54,"y":0.191,"e":0.009},{"p":"b","t":1.59,"y":0.186,"e":0.009},{"p":"b","t":1.63,"y":0.179,"e":0.009},{"p":"b","t":1.68,"y":0.19,"e":0.009},{"p":"b","t":1.72,"y":0.184,"e":0.009},{"p":"b","t":1.77,"y":0.175,"e":0.01},{"p":"b","t":1.81,"y":0.186,"e":0.01},{"p":"b","t":1.86,"y":0.178,"e":0.01},{"p":"b","t":1.91,"y":0.187,"e":0.01},{"p":"b","t":1.95,"y":0.17,"e":0.01},{"p":"b","t":2.0,"y":0.186,"e":0.01},{"p":"b","t":2.04,"y":0.175,"e":0.01},{"p":"b","t":2.08,"y":0.168,"e":0.01},{"p":"b","t":2.13,"y":0.174,"e":0.01},{"p":"b","t":2.17,"y":0.188,"e":0.01},{"p":"b","t":2.21,"y":0.171,"e":0.01},{"p":"b","t":2.25,"y":0.181,"e":0.011},{"p":"b","t":2.3,"y":0.168,"e":0.011},{"p":"b","t":2.35,"y":0.176,"e":0.011},{"p":"b","t":2.4,"y":0.164,"e":0.011},{"p":"b","t":2.45,"y":0.177,"e":0.011},{"p":"b","t":2.5,"y":0.169,"e":0.011},{"p":"b","t":2.55,"y":0.163,"e":0.011},{"p":"b","t":2.59,"y":0.177,"e":0.011},{"p":"b","t":2.64,"y":0.171,"e":0.011},{"p":"b","t":2.69,"y":0.16,"e":0.011},{"p":"b","t":2.74,"y":0.172,"e":0.011},{"p":"b","t":2.78,"y":0.152,"e":0.013},{"p":"b","t":2.82,"y":0.176,"e":0.013},{"p":"b","t":2.87,"y":0.158,"e":0.013},{"p":"b","t":2.95,"y":0.168,"e":0.013},{"p":"b","t":3.01,"y":0.161,"e":0.013},{"p":"b","t":3.06,"y":0.171,"e":0.013},{"p":"b","t":3.11,"y":0.156,"e":0.013},{"p":"b","t":3.16,"y":0.165,"e":0.013},{"p":"b","t":3.2,"y":0.176,"e":0.013},{"p":"b","t":3.25,"y":0.162,"e":0.014},{"p":"b","t":3.3,"y":0.141,"e":0.014},{"p":"b","t":3.39,"y":0.163,"e":0.014},{"p":"b","t":3.43,"y":0.142,"e":0.014},{"p":"b","t":3.47,"y":0.174,"e":0.014},{"p":"b","t":3.52,"y":0.152,"e":0.014},{"p":"b","t":3.58,"y":0.167,"e":0.014},{"p":"b","t":3.62,"y":0.139,"e":0.014},{"p":"b","t":3.66,"y":0.157,"e":0.014},{"p":"b","t":3.7,"y":0.149,"e":0.014},{"p":"b","t":3.75,"y":0.162,"e":0.016},{"p":"b","t":3.81,"y":0.139,"e":0.016},{"p":"b","t":3.85,"y":0.151,"e":0.016},{"p":"b","t":3.9,"y":0.146,"e":0.016},{"p":"b","t":3.94,"y":0.157,"e":0.016},{"p":"b","t":3.98,"y":0.151,"e":0.016},{"p":"b","t":4.02,"y":0.163,"e":0.016},{"p":"b","t":4.07,"y":0.15,"e":0.016},{"p":"b","t":4.12,"y":0.135,"e":0.016},{"p":"b","t":4.16,"y":0.149,"e":0.016},{"p":"b","t":4.2,"y":0.156,"e":0.016},{"p":"b","t":4.23,"y":0.139,"e":0.016},{"p":"b","t":4.27,"y":0.149,"e":0.018},{"p":"b","t":4.32,"y":0.132,"e":0.018},{"p":"b","t":4.36,"y":0.15,"e":0.018},{"p":"b","t":4.4,"y":0.141,"e":0.018},{"p":"b","t":4.44,"y":0.135,"e":0.018},{"p":"b","t":4.48,"y":0.158,"e":0.018},
{"p":"f","t":0.03,"y":0.2514,"e":0.007},{"p":"f","t":0.07,"y":0.2315,"e":0.007},{"p":"f","t":0.105,"y":0.228,"e":0.007},{"p":"f","t":0.15,"y":0.2152,"e":0.007},{"p":"f","t":0.19,"y":0.217,"e":0.007},{"p":"f","t":0.23,"y":0.2134,"e":0.007},{"p":"f","t":0.27,"y":0.2152,"e":0.007},{"p":"f","t":0.32,"y":0.1935,"e":0.007},{"p":"f","t":0.36,"y":0.206,"e":0.007},{"p":"f","t":0.4,"y":0.208,"e":0.007},{"p":"f","t":0.45,"y":0.1935,"e":0.007},{"p":"f","t":0.49,"y":0.208,"e":0.007},{"p":"f","t":0.535,"y":0.2007,"e":0.007},{"p":"f","t":0.58,"y":0.1917,"e":0.007},{"p":"f","t":0.62,"y":0.1917,"e":0.007},{"p":"f","t":0.65,"y":0.2043,"e":0.007},{"p":"f","t":0.7,"y":0.1989,"e":0.007},{"p":"f","t":0.75,"y":0.1862,"e":0.008},{"p":"f","t":0.79,"y":0.1989,"e":0.008},{"p":"f","t":0.83,"y":0.206,"e":0.008},{"p":"f","t":0.87,"y":0.1826,"e":0.008},{"p":"f","t":0.92,"y":0.188,"e":0.008},{"p":"f","t":0.965,"y":0.1844,"e":0.008},{"p":"f","t":1.0,"y":0.1808,"e":0.008},{"p":"f","t":1.05,"y":0.1862,"e":0.008},{"p":"f","t":1.09,"y":0.1808,"e":0.008},{"p":"f","t":1.13,"y":0.1862,"e":0.008},{"p":"f","t":1.18,"y":0.179,"e":0.008},{"p":"f","t":1.22,"y":0.1826,"e":0.008},{"p":"f","t":1.26,"y":0.1808,"e":0.009},{"p":"f","t":1.3,"y":0.179,"e":0.009},{"p":"f","t":1.34,"y":0.19,"e":0.009},{"p":"f","t":1.4,"y":0.1645,"e":0.009},{"p":"f","t":1.44,"y":0.1772,"e":0.009},{"p":"f","t":1.48,"y":0.1862,"e":0.009},{"p":"f","t":1.53,"y":0.1735,"e":0.009},{"p":"f","t":1.57,"y":0.179,"e":0.009},{"p":"f","t":1.63,"y":0.1862,"e":0.009},{"p":"f","t":1.67,"y":0.17,"e":0.009},{"p":"f","t":1.71,"y":0.168,"e":0.009},{"p":"f","t":1.76,"y":0.1772,"e":0.01},{"p":"f","t":1.81,"y":0.179,"e":0.01},{"p":"f","t":1.85,"y":0.1862,"e":0.01},{"p":"f","t":1.89,"y":0.1772,"e":0.01},{"p":"f","t":1.93,"y":0.159,"e":0.01},{"p":"f","t":1.97,"y":0.1735,"e":0.01},{"p":"f","t":2.02,"y":0.17,"e":0.01},{"p":"f","t":2.06,"y":0.1663,"e":0.01},{"p":"f","t":2.12,"y":0.1717,"e":0.01},{"p":"f","t":2.16,"y":0.1862,"e":0.01},{"p":"f","t":2.2,"y":0.168,"e":0.01},{"p":"f","t":2.24,"y":0.1554,"e":0.01},{"p":"f","t":2.28,"y":0.1645,"e":0.011},{"p":"f","t":2.33,"y":0.1772,"e":0.011},{"p":"f","t":2.37,"y":0.157,"e":0.011},{"p":"f","t":2.41,"y":0.1518,"e":0.011},{"p":"f","t":2.45,"y":0.1627,"e":0.011},{"p":"f","t":2.51,"y":0.1663,"e":0.011},{"p":"f","t":2.55,"y":0.1554,"e":0.011},{"p":"f","t":2.59,"y":0.1735,"e":0.011},{"p":"f","t":2.63,"y":0.1663,"e":0.011},{"p":"f","t":2.68,"y":0.1717,"e":0.011},{"p":"f","t":2.73,"y":0.1627,"e":0.011},{"p":"f","t":2.78,"y":0.1482,"e":0.013},{"p":"f","t":2.82,"y":0.1609,"e":0.013},{"p":"f","t":2.89,"y":0.1754,"e":0.013},{"p":"f","t":2.93,"y":0.1518,"e":0.013},{"p":"f","t":2.97,"y":0.1609,"e":0.013},{"p":"f","t":3.01,"y":0.1518,"e":0.013},{"p":"f","t":3.06,"y":0.1482,"e":0.013},{"p":"f","t":3.11,"y":0.168,"e":0.013},{"p":"f","t":3.15,"y":0.1663,"e":0.013},{"p":"f","t":3.18,"y":0.1935,"e":0.013},{"p":"f","t":3.22,"y":0.1337,"e":0.013},{"p":"f","t":3.27,"y":0.1663,"e":0.014},{"p":"f","t":3.32,"y":0.1482,"e":0.014},{"p":"f","t":3.36,"y":0.1536,"e":0.014},{"p":"f","t":3.42,"y":0.1337,"e":0.014},{"p":"f","t":3.45,"y":0.1138,"e":0.014},{"p":"f","t":3.49,"y":0.141,"e":0.014},{"p":"f","t":3.54,"y":0.159,"e":0.014},{"p":"f","t":3.59,"y":0.1446,"e":0.014},{"p":"f","t":3.63,"y":0.168,"e":0.014},{"p":"f","t":3.67,"y":0.1663,"e":0.014},{"p":"f","t":3.73,"y":0.13,"e":0.014},{"p":"f","t":3.77,"y":0.1518,"e":0.016},{"p":"f","t":3.82,"y":0.141,"e":0.016},{"p":"f","t":3.86,"y":0.15,"e":0.016},{"p":"f","t":3.91,"y":0.1428,"e":0.016},{"p":"f","t":3.96,"y":0.1337,"e":0.016},{"p":"f","t":4.0,"y":0.1482,"e":0.016},{"p":"f","t":4.04,"y":0.1464,"e":0.016},{"p":"f","t":4.1,"y":0.15,"e":0.016},{"p":"f","t":4.14,"y":0.1482,"e":0.016},{"p":"f","t":4.18,"y":0.1554,"e":0.016},{"p":"f","t":4.21,"y":0.1156,"e":0.016},{"p":"f","t":4.26,"y":0.1446,"e":0.018},{"p":"f","t":4.31,"y":0.1373,"e":0.018},{"p":"f","t":4.36,"y":0.1609,"e":0.018},{"p":"f","t":4.4,"y":0.13,"e":0.018},{"p":"f","t":4.45,"y":0.1355,"e":0.018},{"p":"f","t":4.5,"y":0.1373,"e":0.018},
{"p":"f","t":0.01,"y":0.262,"e":0.007},{"p":"f","t":0.05,"y":0.24,"e":0.007},{"p":"f","t":0.09,"y":0.226,"e":0.007},{"p":"f","t":0.125,"y":0.221,"e":0.007},{"p":"f","t":0.17,"y":0.212,"e":0.007},{"p":"f","t":0.21,"y":0.208,"e":0.007},{"p":"f","t":0.25,"y":0.204,"e":0.007},{"p":"f","t":0.295,"y":0.209,"e":0.007},{"p":"f","t":0.34,"y":0.2,"e":0.007},{"p":"f","t":0.38,"y":0.197,"e":0.007},{"p":"f","t":0.425,"y":0.203,"e":0.007},{"p":"f","t":0.47,"y":0.199,"e":0.007},{"p":"f","t":0.51,"y":0.195,"e":0.007},{"p":"f","t":0.555,"y":0.198,"e":0.007},{"p":"f","t":0.6,"y":0.203,"e":0.007},{"p":"f","t":0.635,"y":0.196,"e":0.007},{"p":"f","t":0.675,"y":0.192,"e":0.007},{"p":"f","t":0.72,"y":0.195,"e":0.007},{"p":"f","t":0.77,"y":0.191,"e":0.008},{"p":"f","t":0.81,"y":0.188,"e":0.008},{"p":"f","t":0.85,"y":0.194,"e":0.008},{"p":"f","t":0.895,"y":0.191,"e":0.008},{"p":"f","t":0.94,"y":0.187,"e":0.008},{"p":"f","t":0.98,"y":0.193,"e":0.008},{"p":"f","t":1.02,"y":0.186,"e":0.008},{"p":"f","t":1.07,"y":0.19,"e":0.008},{"p":"f","t":1.11,"y":0.184,"e":0.008},{"p":"f","t":1.155,"y":0.189,"e":0.008},{"p":"f","t":1.2,"y":0.184,"e":0.008},{"p":"f","t":1.24,"y":0.179,"e":0.008},{"p":"f","t":1.28,"y":0.185,"e":0.009},{"p":"f","t":1.32,"y":0.182,"e":0.009},{"p":"f","t":1.37,"y":0.177,"e":0.009},{"p":"f","t":1.42,"y":0.184,"e":0.009},{"p":"f","t":1.46,"y":0.179,"e":0.009},{"p":"f","t":1.5,"y":0.175,"e":0.009},{"p":"f","t":1.55,"y":0.183,"e":0.009},{"p":"f","t":1.6,"y":0.177,"e":0.009},{"p":"f","t":1.65,"y":0.172,"e":0.009},{"p":"f","t":1.69,"y":0.179,"e":0.009},{"p":"f","t":1.74,"y":0.183,"e":0.009},{"p":"f","t":1.78,"y":0.171,"e":0.01},{"p":"f","t":1.83,"y":0.175,"e":0.01},{"p":"f","t":1.87,"y":0.169,"e":0.01},{"p":"f","t":1.91,"y":0.177,"e":0.01},{"p":"f","t":1.95,"y":0.168,"e":0.01},{"p":"f","t":2.0,"y":0.179,"e":0.01},{"p":"f","t":2.04,"y":0.174,"e":0.01},{"p":"f","t":2.09,"y":0.162,"e":0.01},{"p":"f","t":2.14,"y":0.174,"e":0.01},{"p":"f","t":2.18,"y":0.165,"e":0.01},{"p":"f","t":2.22,"y":0.171,"e":0.01},{"p":"f","t":2.26,"y":0.166,"e":0.011},{"p":"f","t":2.31,"y":0.162,"e":0.011},{"p":"f","t":2.35,"y":0.171,"e":0.011},{"p":"f","t":2.39,"y":0.165,"e":0.011},{"p":"f","t":2.43,"y":0.17,"e":0.011},{"p":"f","t":2.48,"y":0.159,"e":0.011},{"p":"f","t":2.53,"y":0.163,"e":0.011},{"p":"f","t":2.57,"y":0.167,"e":0.011},{"p":"f","t":2.61,"y":0.158,"e":0.011},{"p":"f","t":2.66,"y":0.163,"e":0.011},{"p":"f","t":2.7,"y":0.171,"e":0.011},{"p":"f","t":2.75,"y":0.157,"e":0.013},{"p":"f","t":2.8,"y":0.165,"e":0.013},{"p":"f","t":2.85,"y":0.155,"e":0.013},{"p":"f","t":2.87,"y":0.166,"e":0.013},{"p":"f","t":2.91,"y":0.163,"e":0.013},{"p":"f","t":2.95,"y":0.171,"e":0.013},{"p":"f","t":2.99,"y":0.156,"e":0.013},{"p":"f","t":3.04,"y":0.16,"e":0.013},{"p":"f","t":3.08,"y":0.154,"e":0.013},{"p":"f","t":3.13,"y":0.158,"e":0.013},{"p":"f","t":3.2,"y":0.152,"e":0.013},{"p":"f","t":3.25,"y":0.146,"e":0.014},{"p":"f","t":3.3,"y":0.157,"e":0.014},{"p":"f","t":3.34,"y":0.162,"e":0.014},{"p":"f","t":3.39,"y":0.149,"e":0.014},{"p":"f","t":3.47,"y":0.155,"e":0.014},{"p":"f","t":3.52,"y":0.146,"e":0.014},{"p":"f","t":3.57,"y":0.152,"e":0.014},{"p":"f","t":3.61,"y":0.138,"e":0.014},{"p":"f","t":3.65,"y":0.147,"e":0.014},{"p":"f","t":3.7,"y":0.156,"e":0.014},{"p":"f","t":3.75,"y":0.143,"e":0.016},{"p":"f","t":3.8,"y":0.137,"e":0.016},{"p":"f","t":3.84,"y":0.156,"e":0.016},{"p":"f","t":3.89,"y":0.134,"e":0.016},{"p":"f","t":3.93,"y":0.152,"e":0.016},{"p":"f","t":3.98,"y":0.141,"e":0.016},{"p":"f","t":4.02,"y":0.131,"e":0.016},{"p":"f","t":4.07,"y":0.155,"e":0.016},{"p":"f","t":4.12,"y":0.138,"e":0.016},{"p":"f","t":4.16,"y":0.128,"e":0.016},{"p":"f","t":4.24,"y":0.151,"e":0.016},{"p":"f","t":4.28,"y":0.125,"e":0.018},{"p":"f","t":4.34,"y":0.148,"e":0.018},{"p":"f","t":4.38,"y":0.141,"e":0.018},{"p":"f","t":4.43,"y":0.126,"e":0.018},{"p":"f","t":4.48,"y":0.145,"e":0.018},
{"p":"c","t":0.017,"y":0.255,"e":0.006},{"p":"c","t":0.135,"y":0.137,"e":0.006},{"p":"c","t":0.185,"y":0.1424,"e":0.006},{"p":"c","t":0.228,"y":0.144,"e":0.006},{"p":"c","t":0.278,"y":0.144,"e":0.007},{"p":"c","t":0.333,"y":0.1315,"e":0.007},{"p":"c","t":0.39,"y":0.1225,"e":0.007},{"p":"c","t":0.43,"y":0.117,"e":0.007},{"p":"c","t":0.47,"y":0.126,"e":0.007},{"p":"c","t":0.514,"y":0.123,"e":0.007},{"p":"c","t":0.556,"y":0.1225,"e":0.007},{"p":"c","t":0.607,"y":0.126,"e":0.007},{"p":"c","t":0.657,"y":0.106,"e":0.007},{"p":"c","t":0.7,"y":0.115,"e":0.007},{"p":"c","t":0.74,"y":0.1243,"e":0.007},{"p":"c","t":0.796,"y":0.1333,"e":0.008},{"p":"c","t":0.84,"y":0.126,"e":0.008},{"p":"c","t":0.893,"y":0.1025,"e":0.008},{"p":"c","t":0.935,"y":0.1225,"e":0.008},{"p":"c","t":0.986,"y":0.126,"e":0.008},{"p":"c","t":1.05,"y":0.1297,"e":0.008},{"p":"c","t":1.09,"y":0.135,"e":0.008},{"p":"c","t":1.13,"y":0.126,"e":0.008},{"p":"c","t":1.176,"y":0.1225,"e":0.008},{"p":"c","t":1.22,"y":0.1134,"e":0.008},{"p":"c","t":1.26,"y":0.1188,"e":0.008},{"p":"c","t":1.33,"y":0.128,"e":0.008},{"p":"c","t":1.374,"y":0.1134,"e":0.008},{"p":"c","t":1.43,"y":0.1152,"e":0.008},{"p":"c","t":1.47,"y":0.1134,"e":0.008},{"p":"c","t":1.526,"y":0.1152,"e":0.008},{"p":"c","t":1.6,"y":0.099,"e":0.008},{"p":"c","t":1.64,"y":0.1152,"e":0.008},{"p":"c","t":1.68,"y":0.1225,"e":0.008},{"p":"c","t":1.72,"y":0.1188,"e":0.008},{"p":"c","t":1.77,"y":0.097,"e":0.009},{"p":"c","t":1.83,"y":0.1116,"e":0.009},{"p":"c","t":1.89,"y":0.117,"e":0.009},{"p":"c","t":1.95,"y":0.099,"e":0.009},{"p":"c","t":1.99,"y":0.1225,"e":0.009},{"p":"c","t":2.04,"y":0.1152,"e":0.009},{"p":"c","t":2.08,"y":0.106,"e":0.009},{"p":"c","t":2.12,"y":0.1134,"e":0.009},{"p":"c","t":2.17,"y":0.108,"e":0.009},{"p":"c","t":2.23,"y":0.1152,"e":0.009},{"p":"c","t":2.27,"y":0.1134,"e":0.011},{"p":"c","t":2.3,"y":0.0964,"e":0.011},{"p":"c","t":2.36,"y":0.106,"e":0.011},{"p":"c","t":2.41,"y":0.108,"e":0.011},{"p":"c","t":2.46,"y":0.1007,"e":0.011},{"p":"c","t":2.5,"y":0.1043,"e":0.011},{"p":"c","t":2.55,"y":0.0953,"e":0.011},{"p":"c","t":2.61,"y":0.106,"e":0.011},{"p":"c","t":2.65,"y":0.097,"e":0.011},{"p":"c","t":2.71,"y":0.1007,"e":0.011},{"p":"c","t":2.76,"y":0.1043,"e":0.012},{"p":"c","t":2.8,"y":0.108,"e":0.012},{"p":"c","t":2.85,"y":0.0953,"e":0.012},{"p":"c","t":2.9,"y":0.1043,"e":0.012},{"p":"c","t":2.96,"y":0.097,"e":0.012},{"p":"c","t":3.0,"y":0.106,"e":0.012},{"p":"c","t":3.03,"y":0.0772,"e":0.012},{"p":"c","t":3.08,"y":0.108,"e":0.012},{"p":"c","t":3.13,"y":0.0899,"e":0.012},{"p":"c","t":3.18,"y":0.1116,"e":0.012},{"p":"c","t":3.22,"y":0.097,"e":0.012},{"p":"c","t":3.26,"y":0.106,"e":0.013},{"p":"c","t":3.31,"y":0.0917,"e":0.013},{"p":"c","t":3.355,"y":0.0862,"e":0.013},{"p":"c","t":3.4,"y":0.0935,"e":0.013},{"p":"c","t":3.44,"y":0.1007,"e":0.013},{"p":"c","t":3.48,"y":0.0808,"e":0.013},{"p":"c","t":3.53,"y":0.0844,"e":0.013},{"p":"c","t":3.57,"y":0.0899,"e":0.013},{"p":"c","t":3.62,"y":0.1152,"e":0.013},{"p":"c","t":3.66,"y":0.1116,"e":0.013},{"p":"c","t":3.7,"y":0.1043,"e":0.013},{"p":"c","t":3.75,"y":0.097,"e":0.015},{"p":"c","t":3.8,"y":0.0808,"e":0.015},{"p":"c","t":3.85,"y":0.1007,"e":0.015},{"p":"c","t":3.89,"y":0.1098,"e":0.015},{"p":"c","t":3.94,"y":0.097,"e":0.015},{"p":"c","t":4.0,"y":0.0935,"e":0.015},{"p":"c","t":4.04,"y":0.1496,"e":0.015},{"p":"c","t":4.08,"y":0.0717,"e":0.015},{"p":"c","t":4.13,"y":0.1152,"e":0.015},{"p":"c","t":4.17,"y":0.1043,"e":0.015},{"p":"c","t":4.2,"y":0.1116,"e":0.015},{"p":"c","t":4.23,"y":0.1043,"e":0.015},{"p":"c","t":4.27,"y":0.0808,"e":0.016},{"p":"c","t":4.32,"y":0.0681,"e":0.016},{"p":"c","t":4.35,"y":0.1424,"e":0.016},{"p":"c","t":4.39,"y":0.1043,"e":0.016},{"p":"c","t":4.42,"y":0.117,"e":0.016},{"p":"c","t":4.46,"y":0.097,"e":0.016},{"p":"c","t":4.49,"y":0.079,"e":0.016},
{"p":"c","t":0.155,"y":0.139,"e":0.006},{"p":"c","t":0.21,"y":0.142,"e":0.006},{"p":"c","t":0.25,"y":0.146,"e":0.007},{"p":"c","t":0.3,"y":0.139,"e":0.007},{"p":"c","t":0.36,"y":0.126,"e":0.007},{"p":"c","t":0.41,"y":0.121,"e":0.007},{"p":"c","t":0.45,"y":0.118,"e":0.007},{"p":"c","t":0.49,"y":0.121,"e":0.007},{"p":"c","t":0.535,"y":0.118,"e":0.007},{"p":"c","t":0.58,"y":0.121,"e":0.007},{"p":"c","t":0.63,"y":0.118,"e":0.007},{"p":"c","t":0.68,"y":0.112,"e":0.007},{"p":"c","t":0.72,"y":0.118,"e":0.007},{"p":"c","t":0.77,"y":0.122,"e":0.008},{"p":"c","t":0.82,"y":0.119,"e":0.008},{"p":"c","t":0.865,"y":0.121,"e":0.008},{"p":"c","t":0.91,"y":0.125,"e":0.008},{"p":"c","t":0.96,"y":0.118,"e":0.008},{"p":"c","t":1.01,"y":0.121,"e":0.008},{"p":"c","t":1.07,"y":0.124,"e":0.008},{"p":"c","t":1.11,"y":0.117,"e":0.008},{"p":"c","t":1.15,"y":0.121,"e":0.008},{"p":"c","t":1.2,"y":0.118,"e":0.008},{"p":"c","t":1.24,"y":0.122,"e":0.008},{"p":"c","t":1.29,"y":0.115,"e":0.008},{"p":"c","t":1.31,"y":0.121,"e":0.008},{"p":"c","t":1.35,"y":0.118,"e":0.008},{"p":"c","t":1.4,"y":0.111,"e":0.008},{"p":"c","t":1.45,"y":0.118,"e":0.008},{"p":"c","t":1.5,"y":0.109,"e":0.008},{"p":"c","t":1.55,"y":0.113,"e":0.008},{"p":"c","t":1.58,"y":0.118,"e":0.008},{"p":"c","t":1.62,"y":0.108,"e":0.008},{"p":"c","t":1.66,"y":0.112,"e":0.008},{"p":"c","t":1.7,"y":0.105,"e":0.008},{"p":"c","t":1.74,"y":0.114,"e":0.008},{"p":"c","t":1.8,"y":0.117,"e":0.009},{"p":"c","t":1.86,"y":0.107,"e":0.009},{"p":"c","t":1.92,"y":0.115,"e":0.009},{"p":"c","t":1.97,"y":0.109,"e":0.009},{"p":"c","t":2.01,"y":0.104,"e":0.009},{"p":"c","t":2.06,"y":0.113,"e":0.009},{"p":"c","t":2.1,"y":0.118,"e":0.009},{"p":"c","t":2.15,"y":0.103,"e":0.009},{"p":"c","t":2.2,"y":0.109,"e":0.009},{"p":"c","t":2.25,"y":0.105,"e":0.011},{"p":"c","t":2.33,"y":0.112,"e":0.011},{"p":"c","t":2.38,"y":0.101,"e":0.011},{"p":"c","t":2.43,"y":0.113,"e":0.011},{"p":"c","t":2.48,"y":0.107,"e":0.011},{"p":"c","t":2.53,"y":0.111,"e":0.011},{"p":"c","t":2.58,"y":0.101,"e":0.011},{"p":"c","t":2.63,"y":0.108,"e":0.011},{"p":"c","t":2.68,"y":0.112,"e":0.011},{"p":"c","t":2.73,"y":0.097,"e":0.011},{"p":"c","t":2.78,"y":0.101,"e":0.012},{"p":"c","t":2.83,"y":0.109,"e":0.012},{"p":"c","t":2.88,"y":0.099,"e":0.012},{"p":"c","t":2.93,"y":0.107,"e":0.012},{"p":"c","t":2.98,"y":0.094,"e":0.012},{"p":"c","t":3.05,"y":0.101,"e":0.012},{"p":"c","t":3.1,"y":0.097,"e":0.012},{"p":"c","t":3.15,"y":0.104,"e":0.012},{"p":"c","t":3.2,"y":0.094,"e":0.012},{"p":"c","t":3.24,"y":0.102,"e":0.012},{"p":"c","t":3.28,"y":0.109,"e":0.013},{"p":"c","t":3.33,"y":0.097,"e":0.013},{"p":"c","t":3.38,"y":0.103,"e":0.013},{"p":"c","t":3.42,"y":0.109,"e":0.013},{"p":"c","t":3.46,"y":0.095,"e":0.013},{"p":"c","t":3.5,"y":0.101,"e":0.013},{"p":"c","t":3.55,"y":0.11,"e":0.013},{"p":"c","t":3.6,"y":0.092,"e":0.013},{"p":"c","t":3.64,"y":0.121,"e":0.013},{"p":"c","t":3.68,"y":0.098,"e":0.013},{"p":"c","t":3.72,"y":0.115,"e":0.013},{"p":"c","t":3.77,"y":0.089,"e":0.015},{"p":"c","t":3.82,"y":0.105,"e":0.015},{"p":"c","t":3.87,"y":0.093,"e":0.015},{"p":"c","t":3.91,"y":0.118,"e":0.015},{"p":"c","t":3.96,"y":0.101,"e":0.015},{"p":"c","t":4.02,"y":0.108,"e":0.015},{"p":"c","t":4.06,"y":0.126,"e":0.015},{"p":"c","t":4.1,"y":0.093,"e":0.015},{"p":"c","t":4.15,"y":0.089,"e":0.015},{"p":"c","t":4.25,"y":0.118,"e":0.016},{"p":"c","t":4.3,"y":0.101,"e":0.016},{"p":"c","t":4.37,"y":0.087,"e":0.016},{"p":"c","t":4.41,"y":0.126,"e":0.016},{"p":"c","t":4.44,"y":0.108,"e":0.016},{"p":"c","t":4.48,"y":0.102,"e":0.016},
{"p":"g","t":0.177,"y":0.1188,"e":0.006},{"p":"g","t":0.23,"y":0.1225,"e":0.006},{"p":"g","t":0.274,"y":0.155,"e":0.007},{"p":"g","t":0.303,"y":0.1616,"e":0.007},{"p":"g","t":0.346,"y":0.1478,"e":0.007},{"p":"g","t":0.388,"y":0.126,"e":0.007},{"p":"g","t":0.43,"y":0.1152,"e":0.007},{"p":"g","t":0.472,"y":0.1315,"e":0.007},{"p":"g","t":0.514,"y":0.1442,"e":0.007},{"p":"g","t":0.556,"y":0.1188,"e":0.007},{"p":"g","t":0.6,"y":0.1351,"e":0.007},{"p":"g","t":0.64,"y":0.1225,"e":0.007},{"p":"g","t":0.683,"y":0.1406,"e":0.007},{"p":"g","t":0.725,"y":0.1297,"e":0.007},{"p":"g","t":0.767,"y":0.1207,"e":0.008},{"p":"g","t":0.81,"y":0.1351,"e":0.008},{"p":"g","t":0.85,"y":0.137,"e":0.008},{"p":"g","t":0.894,"y":0.1225,"e":0.008},{"p":"g","t":0.935,"y":0.1152,"e":0.008},{"p":"g","t":0.978,"y":0.126,"e":0.008},{"p":"g","t":1.032,"y":0.1388,"e":0.008},{"p":"g","t":1.074,"y":0.126,"e":0.008},{"p":"g","t":1.125,"y":0.1188,"e":0.008},{"p":"g","t":1.16,"y":0.108,"e":0.008},{"p":"g","t":1.21,"y":0.1134,"e":0.008},{"p":"g","t":1.25,"y":0.1152,"e":0.008},{"p":"g","t":1.293,"y":0.1188,"e":0.008},{"p":"g","t":1.336,"y":0.1134,"e":0.008},{"p":"g","t":1.378,"y":0.1243,"e":0.008},{"p":"g","t":1.42,"y":0.1188,"e":0.008},{"p":"g","t":1.454,"y":0.1351,"e":0.008},{"p":"g","t":1.496,"y":0.108,"e":0.008},{"p":"g","t":1.54,"y":0.1116,"e":0.008},{"p":"g","t":1.58,"y":0.1134,"e":0.008},{"p":"g","t":1.63,"y":0.117,"e":0.008},{"p":"g","t":1.673,"y":0.1098,"e":0.008},{"p":"g","t":1.715,"y":0.1152,"e":0.008},{"p":"g","t":1.78,"y":0.0917,"e":0.009},{"p":"g","t":1.82,"y":0.126,"e":0.009},{"p":"g","t":1.863,"y":0.1116,"e":0.009},{"p":"g","t":1.92,"y":0.1007,"e":0.009},{"p":"g","t":1.96,"y":0.1225,"e":0.009},{"p":"g","t":2.0,"y":0.1152,"e":0.009},{"p":"g","t":2.043,"y":0.1243,"e":0.009},{"p":"g","t":2.085,"y":0.1043,"e":0.009},{"p":"g","t":2.128,"y":0.1134,"e":0.009},{"p":"g","t":2.17,"y":0.1188,"e":0.009},{"p":"g","t":2.22,"y":0.108,"e":0.009},{"p":"g","t":2.255,"y":0.0935,"e":0.011},{"p":"g","t":2.297,"y":0.1116,"e":0.011},{"p":"g","t":2.34,"y":0.1043,"e":0.011},{"p":"g","t":2.39,"y":0.0989,"e":0.011},{"p":"g","t":2.43,"y":0.1152,"e":0.011},{"p":"g","t":2.474,"y":0.1043,"e":0.011},{"p":"g","t":2.516,"y":0.1225,"e":0.011},{"p":"g","t":2.566,"y":0.079,"e":0.011},{"p":"g","t":2.608,"y":0.097,"e":0.011},{"p":"g","t":2.65,"y":0.1043,"e":0.011},{"p":"g","t":2.693,"y":0.1152,"e":0.011},{"p":"g","t":2.735,"y":0.1207,"e":0.011},{"p":"g","t":2.777,"y":0.1098,"e":0.012},{"p":"g","t":2.832,"y":0.0917,"e":0.012},{"p":"g","t":2.875,"y":0.1007,"e":0.012},{"p":"g","t":2.917,"y":0.1098,"e":0.012},{"p":"g","t":2.958,"y":0.0935,"e":0.012},{"p":"g","t":3.0,"y":0.1007,"e":0.012},{"p":"g","t":3.055,"y":0.0899,"e":0.012},{"p":"g","t":3.097,"y":0.108,"e":0.012},{"p":"g","t":3.14,"y":0.1043,"e":0.012},{"p":"g","t":3.18,"y":0.1007,"e":0.012},{"p":"g","t":3.232,"y":0.0935,"e":0.012},{"p":"g","t":3.266,"y":0.117,"e":0.013},{"p":"g","t":3.295,"y":0.1388,"e":0.013},{"p":"g","t":3.35,"y":0.0808,"e":0.013},{"p":"g","t":3.392,"y":0.1025,"e":0.013},{"p":"g","t":3.434,"y":0.126,"e":0.013},{"p":"g","t":3.476,"y":0.0935,"e":0.013},{"p":"g","t":3.52,"y":0.097,"e":0.013},{"p":"g","t":3.56,"y":0.1116,"e":0.013},{"p":"g","t":3.59,"y":0.0645,"e":0.013},{"p":"g","t":3.632,"y":0.0862,"e":0.013},{"p":"g","t":3.675,"y":0.1188,"e":0.013},{"p":"g","t":3.717,"y":0.1025,"e":0.013},{"p":"g","t":3.76,"y":0.0935,"e":0.015},{"p":"g","t":3.8,"y":0.0899,"e":0.015},{"p":"g","t":3.843,"y":0.0953,"e":0.015},{"p":"g","t":3.885,"y":0.097,"e":0.015},{"p":"g","t":3.927,"y":0.088,"e":0.015},{"p":"g","t":3.97,"y":0.097,"e":0.015},{"p":"g","t":4.024,"y":0.1315,"e":0.015},{"p":"g","t":4.066,"y":0.0953,"e":0.015},{"p":"g","t":4.108,"y":0.1188,"e":0.015},{"p":"g","t":4.15,"y":0.0808,"e":0.015},{"p":"g","t":4.18,"y":0.0717,"e":0.015},{"p":"g","t":4.222,"y":0.1025,"e":0.015},{"p":"g","t":4.264,"y":0.097,"e":0.016},{"p":"g","t":4.306,"y":0.1098,"e":0.016},{"p":"g","t":4.35,"y":0.0917,"e":0.016},{"p":"g","t":4.39,"y":0.0862,"e":0.016},{"p":"g","t":4.433,"y":0.1043,"e":0.016},{"p":"g","t":4.467,"y":0.1351,"e":0.016},{"p":"g","t":4.497,"y":0.1188,"e":0.016},
{"p":"g","t":0.2,"y":0.128,"e":0.006},{"p":"g","t":0.25,"y":0.14,"e":0.007},{"p":"g","t":0.29,"y":0.152,"e":0.007},{"p":"g","t":0.32,"y":0.144,"e":0.007},{"p":"g","t":0.37,"y":0.135,"e":0.007},{"p":"g","t":0.41,"y":0.121,"e":0.007},{"p":"g","t":0.45,"y":0.124,"e":0.007},{"p":"g","t":0.49,"y":0.138,"e":0.007},{"p":"g","t":0.535,"y":0.133,"e":0.007},{"p":"g","t":0.58,"y":0.127,"e":0.007},{"p":"g","t":0.62,"y":0.131,"e":0.007},{"p":"g","t":0.66,"y":0.126,"e":0.007},{"p":"g","t":0.7,"y":0.122,"e":0.007},{"p":"g","t":0.745,"y":0.127,"e":0.007},{"p":"g","t":0.79,"y":0.131,"e":0.008},{"p":"g","t":0.83,"y":0.124,"e":0.008},{"p":"g","t":0.87,"y":0.129,"e":0.008},{"p":"g","t":0.915,"y":0.12,"e":0.008},{"p":"g","t":0.955,"y":0.128,"e":0.008},{"p":"g","t":1.0,"y":0.121,"e":0.008},{"p":"g","t":1.05,"y":0.128,"e":0.008},{"p":"g","t":1.1,"y":0.116,"e":0.008},{"p":"g","t":1.14,"y":0.124,"e":0.008},{"p":"g","t":1.18,"y":0.117,"e":0.008},{"p":"g","t":1.23,"y":0.121,"e":0.008},{"p":"g","t":1.27,"y":0.113,"e":0.008},{"p":"g","t":1.31,"y":0.125,"e":0.008},{"p":"g","t":1.36,"y":0.118,"e":0.008},{"p":"g","t":1.4,"y":0.111,"e":0.008},{"p":"g","t":1.44,"y":0.121,"e":0.008},{"p":"g","t":1.48,"y":0.114,"e":0.008},{"p":"g","t":1.52,"y":0.123,"e":0.008},{"p":"g","t":1.56,"y":0.117,"e":0.008},{"p":"g","t":1.6,"y":0.109,"e":0.008},{"p":"g","t":1.65,"y":0.121,"e":0.008},{"p":"g","t":1.69,"y":0.115,"e":0.008},{"p":"g","t":1.74,"y":0.109,"e":0.008},{"p":"g","t":1.8,"y":0.118,"e":0.009},{"p":"g","t":1.84,"y":0.105,"e":0.009},{"p":"g","t":1.88,"y":0.117,"e":0.009},{"p":"g","t":1.94,"y":0.111,"e":0.009},{"p":"g","t":1.98,"y":0.107,"e":0.009},{"p":"g","t":2.02,"y":0.119,"e":0.009},{"p":"g","t":2.06,"y":0.111,"e":0.009},{"p":"g","t":2.1,"y":0.121,"e":0.009},{"p":"g","t":2.15,"y":0.107,"e":0.009},{"p":"g","t":2.19,"y":0.113,"e":0.009},{"p":"g","t":2.24,"y":0.117,"e":0.009},{"p":"g","t":2.28,"y":0.102,"e":0.011},{"p":"g","t":2.32,"y":0.113,"e":0.011},{"p":"g","t":2.37,"y":0.108,"e":0.011},{"p":"g","t":2.41,"y":0.101,"e":0.011},{"p":"g","t":2.45,"y":0.111,"e":0.011},{"p":"g","t":2.5,"y":0.106,"e":0.011},{"p":"g","t":2.54,"y":0.112,"e":0.011},{"p":"g","t":2.59,"y":0.101,"e":0.011},{"p":"g","t":2.63,"y":0.109,"e":0.011},{"p":"g","t":2.67,"y":0.098,"e":0.011},{"p":"g","t":2.71,"y":0.106,"e":0.011},{"p":"g","t":2.76,"y":0.101,"e":0.012},{"p":"g","t":2.8,"y":0.113,"e":0.012},{"p":"g","t":2.85,"y":0.104,"e":0.012},{"p":"g","t":2.9,"y":0.095,"e":0.012},{"p":"g","t":2.94,"y":0.108,"e":0.012},{"p":"g","t":2.98,"y":0.102,"e":0.012},{"p":"g","t":3.03,"y":0.111,"e":0.012},{"p":"g","t":3.07,"y":0.097,"e":0.012},{"p":"g","t":3.12,"y":0.103,"e":0.012},{"p":"g","t":3.16,"y":0.094,"e":0.012},{"p":"g","t":3.2,"y":0.109,"e":0.012},{"p":"g","t":3.25,"y":0.099,"e":0.013},{"p":"g","t":3.31,"y":0.106,"e":0.013},{"p":"g","t":3.37,"y":0.095,"e":0.013},{"p":"g","t":3.41,"y":0.101,"e":0.013},{"p":"g","t":3.45,"y":0.107,"e":0.013},{"p":"g","t":3.5,"y":0.089,"e":0.013},{"p":"g","t":3.54,"y":0.102,"e":0.013},{"p":"g","t":3.61,"y":0.097,"e":0.013},{"p":"g","t":3.65,"y":0.108,"e":0.013},{"p":"g","t":3.7,"y":0.092,"e":0.013},{"p":"g","t":3.74,"y":0.101,"e":0.013},{"p":"g","t":3.78,"y":0.097,"e":0.015},{"p":"g","t":3.82,"y":0.105,"e":0.015},{"p":"g","t":3.86,"y":0.089,"e":0.015},{"p":"g","t":3.91,"y":0.101,"e":0.015},{"p":"g","t":3.95,"y":0.093,"e":0.015},{"p":"g","t":4.0,"y":0.087,"e":0.015},{"p":"g","t":4.04,"y":0.104,"e":0.015},{"p":"g","t":4.09,"y":0.091,"e":0.015},{"p":"g","t":4.13,"y":0.097,"e":0.015},{"p":"g","t":4.2,"y":0.093,"e":0.015},{"p":"g","t":4.24,"y":0.086,"e":0.015},{"p":"g","t":4.28,"y":0.101,"e":0.016},{"p":"g","t":4.33,"y":0.094,"e":0.016},{"p":"g","t":4.37,"y":0.081,"e":0.016},{"p":"g","t":4.41,"y":0.097,"e":0.016},{"p":"g","t":4.45,"y":0.091,"e":0.016},{"p":"g","t":4.48,"y":0.102,"e":0.016},
{"p":"d","t":0.2,"y":0.188,"e":0.007},{"p":"d","t":0.3,"y":0.0815,"e":0.007},{"p":"d","t":0.325,"y":0.0815,"e":0.007},{"p":"d","t":0.367,"y":0.1576,"e":0.007},{"p":"d","t":0.396,"y":0.1413,"e":0.007},{"p":"d","t":0.43,"y":0.1359,"e":0.007},{"p":"d","t":0.468,"y":0.1014,"e":0.007},{"p":"d","t":0.535,"y":0.1558,"e":0.007},{"p":"d","t":0.577,"y":0.1594,"e":0.007},{"p":"d","t":0.62,"y":0.1486,"e":0.007},{"p":"d","t":0.66,"y":0.1558,"e":0.007},{"p":"d","t":0.704,"y":0.163,"e":0.007},{"p":"d","t":0.733,"y":0.1377,"e":0.007},{"p":"d","t":0.775,"y":0.143,"e":0.008},{"p":"d","t":0.818,"y":0.1413,"e":0.008},{"p":"d","t":0.86,"y":0.1304,"e":0.008},{"p":"d","t":0.9,"y":0.1286,"e":0.008},{"p":"d","t":0.944,"y":0.1214,"e":0.008},{"p":"d","t":0.973,"y":0.1069,"e":0.008},{"p":"d","t":1.007,"y":0.1014,"e":0.008},{"p":"d","t":1.04,"y":0.1196,"e":0.008},{"p":"d","t":1.07,"y":0.1178,"e":0.008},{"p":"d","t":1.134,"y":0.0924,"e":0.008},{"p":"d","t":1.176,"y":0.1196,"e":0.008},{"p":"d","t":1.226,"y":0.1504,"e":0.008},{"p":"d","t":1.268,"y":0.1486,"e":0.009},{"p":"d","t":1.31,"y":0.134,"e":0.009},{"p":"d","t":1.353,"y":0.1304,"e":0.009},{"p":"d","t":1.395,"y":0.163,"e":0.009},{"p":"d","t":1.43,"y":0.1504,"e":0.009},{"p":"d","t":1.48,"y":0.1304,"e":0.009},{"p":"d","t":1.52,"y":0.1159,"e":0.009},{"p":"d","t":1.563,"y":0.1268,"e":0.009},{"p":"d","t":1.605,"y":0.1196,"e":0.009},{"p":"d","t":1.648,"y":0.125,"e":0.009},{"p":"d","t":1.69,"y":0.1087,"e":0.009},{"p":"d","t":1.73,"y":0.1159,"e":0.009},{"p":"d","t":1.774,"y":0.0942,"e":0.01},{"p":"d","t":1.816,"y":0.1123,"e":0.01},{"p":"d","t":1.858,"y":0.1196,"e":0.01},{"p":"d","t":1.9,"y":0.134,"e":0.01},{"p":"d","t":1.943,"y":0.1449,"e":0.01},{"p":"d","t":1.985,"y":0.1467,"e":0.01},{"p":"d","t":2.02,"y":0.1449,"e":0.01},{"p":"d","t":2.06,"y":0.1486,"e":0.01},{"p":"d","t":2.1,"y":0.1522,"e":0.01},{"p":"d","t":2.145,"y":0.134,"e":0.01},{"p":"d","t":2.187,"y":0.1377,"e":0.01},{"p":"d","t":2.23,"y":0.1413,"e":0.01},{"p":"d","t":2.27,"y":0.1304,"e":0.011},{"p":"d","t":2.313,"y":0.1286,"e":0.011},{"p":"d","t":2.356,"y":0.125,"e":0.011},{"p":"d","t":2.4,"y":0.1087,"e":0.011},{"p":"d","t":2.43,"y":0.1123,"e":0.011},{"p":"d","t":2.47,"y":0.118,"e":0.011},{"p":"d","t":2.52,"y":0.125,"e":0.011},{"p":"d","t":2.57,"y":0.112,"e":0.011},{"p":"d","t":2.62,"y":0.132,"e":0.011},{"p":"d","t":2.67,"y":0.14,"e":0.011},{"p":"d","t":2.72,"y":0.128,"e":0.011},{"p":"d","t":2.77,"y":0.145,"e":0.013},{"p":"d","t":2.82,"y":0.122,"e":0.013},{"p":"d","t":2.87,"y":0.135,"e":0.013},{"p":"d","t":2.92,"y":0.115,"e":0.013},{"p":"d","t":2.97,"y":0.085,"e":0.013},{"p":"d","t":3.02,"y":0.092,"e":0.013},{"p":"d","t":3.07,"y":0.12,"e":0.013},{"p":"d","t":3.12,"y":0.105,"e":0.013},{"p":"d","t":3.17,"y":0.11,"e":0.013},{"p":"d","t":3.22,"y":0.098,"e":0.013},{"p":"d","t":3.27,"y":0.125,"e":0.014},{"p":"d","t":3.32,"y":0.13,"e":0.014},{"p":"d","t":3.37,"y":0.115,"e":0.014},{"p":"d","t":3.42,"y":0.14,"e":0.014},{"p":"d","t":3.47,"y":0.105,"e":0.014},{"p":"d","t":3.52,"y":0.128,"e":0.014},{"p":"d","t":3.57,"y":0.122,"e":0.014},{"p":"d","t":3.62,"y":0.095,"e":0.014},{"p":"d","t":3.67,"y":0.132,"e":0.014},{"p":"d","t":3.71,"y":0.1,"e":0.014},{"p":"d","t":3.75,"y":0.132,"e":0.016},{"p":"d","t":3.79,"y":0.101,"e":0.016},{"p":"d","t":3.83,"y":0.121,"e":0.016},{"p":"d","t":3.88,"y":0.076,"e":0.016},{"p":"d","t":3.91,"y":0.12,"e":0.016},{"p":"d","t":3.95,"y":0.085,"e":0.016},{"p":"d","t":4.0,"y":0.138,"e":0.016},{"p":"d","t":4.04,"y":0.089,"e":0.016},{"p":"d","t":4.09,"y":0.136,"e":0.016},{"p":"d","t":4.13,"y":0.072,"e":0.016},{"p":"d","t":4.16,"y":0.138,"e":0.016},{"p":"d","t":4.21,"y":0.089,"e":0.016},{"p":"d","t":4.25,"y":0.15,"e":0.018},{"p":"d","t":4.29,"y":0.138,"e":0.018},{"p":"d","t":4.33,"y":0.136,"e":0.018},{"p":"d","t":4.38,"y":0.072,"e":0.018},{"p":"d","t":4.41,"y":0.054,"e":0.02},{"p":"d","t":4.45,"y":0.125,"e":0.018},{"p":"d","t":4.48,"y":0.147,"e":0.018},
{"p":"d","t":0.22,"y":0.17,"e":0.007},{"p":"d","t":0.25,"y":0.142,"e":0.007},{"p":"d","t":0.28,"y":0.096,"e":0.007},{"p":"d","t":0.35,"y":0.118,"e":0.007},{"p":"d","t":0.41,"y":0.132,"e":0.007},{"p":"d","t":0.45,"y":0.112,"e":0.007},{"p":"d","t":0.49,"y":0.109,"e":0.007},{"p":"d","t":0.51,"y":0.124,"e":0.007},{"p":"d","t":0.56,"y":0.152,"e":0.007},{"p":"d","t":0.6,"y":0.151,"e":0.007},{"p":"d","t":0.64,"y":0.142,"e":0.007},{"p":"d","t":0.68,"y":0.149,"e":0.007},{"p":"d","t":0.72,"y":0.158,"e":0.007},{"p":"d","t":0.75,"y":0.152,"e":0.008},{"p":"d","t":0.8,"y":0.146,"e":0.008},{"p":"d","t":0.84,"y":0.134,"e":0.008},{"p":"d","t":0.88,"y":0.131,"e":0.008},{"p":"d","t":0.92,"y":0.119,"e":0.008},{"p":"d","t":0.96,"y":0.112,"e":0.008},{"p":"d","t":0.99,"y":0.113,"e":0.008},{"p":"d","t":1.02,"y":0.109,"e":0.008},{"p":"d","t":1.055,"y":0.106,"e":0.008},{"p":"d","t":1.1,"y":0.111,"e":0.008},{"p":"d","t":1.15,"y":0.117,"e":0.008},{"p":"d","t":1.2,"y":0.128,"e":0.008},{"p":"d","t":1.25,"y":0.137,"e":0.009},{"p":"d","t":1.29,"y":0.142,"e":0.009},{"p":"d","t":1.33,"y":0.139,"e":0.009},{"p":"d","t":1.37,"y":0.146,"e":0.009},{"p":"d","t":1.41,"y":0.138,"e":0.009},{"p":"d","t":1.46,"y":0.135,"e":0.009},{"p":"d","t":1.5,"y":0.129,"e":0.009},{"p":"d","t":1.54,"y":0.123,"e":0.009},{"p":"d","t":1.58,"y":0.118,"e":0.009},{"p":"d","t":1.62,"y":0.119,"e":0.009},{"p":"d","t":1.67,"y":0.113,"e":0.009},{"p":"d","t":1.71,"y":0.107,"e":0.009},{"p":"d","t":1.75,"y":0.114,"e":0.01},{"p":"d","t":1.79,"y":0.106,"e":0.01},{"p":"d","t":1.84,"y":0.114,"e":0.01},{"p":"d","t":1.88,"y":0.122,"e":0.01},{"p":"d","t":1.92,"y":0.129,"e":0.01},{"p":"d","t":1.96,"y":0.131,"e":0.01},{"p":"d","t":2.0,"y":0.135,"e":0.01},{"p":"d","t":2.04,"y":0.141,"e":0.01},{"p":"d","t":2.08,"y":0.129,"e":0.01},{"p":"d","t":2.12,"y":0.139,"e":0.01},{"p":"d","t":2.17,"y":0.132,"e":0.01},{"p":"d","t":2.21,"y":0.126,"e":0.01},{"p":"d","t":2.25,"y":0.121,"e":0.011},{"p":"d","t":2.29,"y":0.119,"e":0.011},{"p":"d","t":2.33,"y":0.112,"e":0.011},{"p":"d","t":2.38,"y":0.104,"e":0.011},{"p":"d","t":2.45,"y":0.114,"e":0.011},{"p":"d","t":2.5,"y":0.108,"e":0.011},{"p":"d","t":2.55,"y":0.119,"e":0.011},{"p":"d","t":2.6,"y":0.121,"e":0.011},{"p":"d","t":2.65,"y":0.127,"e":0.011},{"p":"d","t":2.7,"y":0.136,"e":0.011},{"p":"d","t":2.75,"y":0.124,"e":0.013},{"p":"d","t":2.8,"y":0.131,"e":0.013},{"p":"d","t":2.85,"y":0.117,"e":0.013},{"p":"d","t":2.9,"y":0.124,"e":0.013},{"p":"d","t":2.95,"y":0.108,"e":0.013},{"p":"d","t":3.0,"y":0.113,"e":0.013},{"p":"d","t":3.05,"y":0.101,"e":0.013},{"p":"d","t":3.1,"y":0.114,"e":0.013},{"p":"d","t":3.15,"y":0.098,"e":0.013},{"p":"d","t":3.2,"y":0.117,"e":0.013},{"p":"d","t":3.25,"y":0.108,"e":0.014},{"p":"d","t":3.3,"y":0.121,"e":0.014},{"p":"d","t":3.35,"y":0.126,"e":0.014},{"p":"d","t":3.4,"y":0.112,"e":0.014},{"p":"d","t":3.45,"y":0.123,"e":0.014},{"p":"d","t":3.5,"y":0.117,"e":0.014},{"p":"d","t":3.55,"y":0.109,"e":0.014},{"p":"d","t":3.6,"y":0.118,"e":0.014},{"p":"d","t":3.65,"y":0.104,"e":0.014},{"p":"d","t":3.69,"y":0.115,"e":0.014},{"p":"d","t":3.73,"y":0.109,"e":0.014},{"p":"d","t":3.77,"y":0.118,"e":0.016},{"p":"d","t":3.81,"y":0.098,"e":0.016},{"p":"d","t":3.86,"y":0.112,"e":0.016},{"p":"d","t":3.89,"y":0.105,"e":0.016},{"p":"d","t":3.93,"y":0.125,"e":0.016},{"p":"d","t":3.97,"y":0.111,"e":0.016},{"p":"d","t":4.02,"y":0.124,"e":0.016},{"p":"d","t":4.06,"y":0.113,"e":0.016},{"p":"d","t":4.11,"y":0.129,"e":0.016},{"p":"d","t":4.15,"y":0.108,"e":0.016},{"p":"d","t":4.19,"y":0.122,"e":0.016},{"p":"d","t":4.23,"y":0.113,"e":0.016},{"p":"d","t":4.27,"y":0.107,"e":0.018},{"p":"d","t":4.31,"y":0.118,"e":0.018},{"p":"d","t":4.36,"y":0.104,"e":0.018},{"p":"d","t":4.39,"y":0.096,"e":0.018},{"p":"d","t":4.43,"y":0.111,"e":0.018},{"p":"d","t":4.46,"y":0.092,"e":0.018},
{"p":"h","t":0.215,"y":0.19,"e":0.007},{"p":"h","t":0.236,"y":0.181,"e":0.007},{"p":"h","t":0.308,"y":0.0996,"e":0.007},{"p":"h","t":0.34,"y":0.098,"e":0.007},{"p":"h","t":0.426,"y":0.152,"e":0.007},{"p":"h","t":0.46,"y":0.145,"e":0.007},{"p":"h","t":0.51,"y":0.105,"e":0.007},{"p":"h","t":0.544,"y":0.112,"e":0.007},{"p":"h","t":0.594,"y":0.134,"e":0.007},{"p":"h","t":0.628,"y":0.145,"e":0.007},{"p":"h","t":0.68,"y":0.13,"e":0.007},{"p":"h","t":0.71,"y":0.125,"e":0.007},{"p":"h","t":0.754,"y":0.145,"e":0.008},{"p":"h","t":0.796,"y":0.13,"e":0.008},{"p":"h","t":0.84,"y":0.123,"e":0.008},{"p":"h","t":0.88,"y":0.127,"e":0.008},{"p":"h","t":0.93,"y":0.142,"e":0.008},{"p":"h","t":0.965,"y":0.13,"e":0.008},{"p":"h","t":1.007,"y":0.1286,"e":0.008},{"p":"h","t":1.05,"y":0.123,"e":0.008},{"p":"h","t":1.09,"y":0.134,"e":0.008},{"p":"h","t":1.142,"y":0.1286,"e":0.008},{"p":"h","t":1.184,"y":0.123,"e":0.008},{"p":"h","t":1.226,"y":0.13,"e":0.008},{"p":"h","t":1.268,"y":0.105,"e":0.009},{"p":"h","t":1.31,"y":0.13,"e":0.009},{"p":"h","t":1.35,"y":0.13,"e":0.009},{"p":"h","t":1.395,"y":0.116,"e":0.009},{"p":"h","t":1.437,"y":0.1087,"e":0.009},{"p":"h","t":1.48,"y":0.1105,"e":0.009},{"p":"h","t":1.52,"y":0.116,"e":0.009},{"p":"h","t":1.563,"y":0.1196,"e":0.009},{"p":"h","t":1.605,"y":0.1105,"e":0.009},{"p":"h","t":1.648,"y":0.116,"e":0.009},{"p":"h","t":1.69,"y":0.1014,"e":0.009},{"p":"h","t":1.73,"y":0.123,"e":0.009},{"p":"h","t":1.774,"y":0.1196,"e":0.01},{"p":"h","t":1.816,"y":0.121,"e":0.01},{"p":"h","t":1.858,"y":0.1178,"e":0.01},{"p":"h","t":1.9,"y":0.1196,"e":0.01},{"p":"h","t":1.943,"y":0.116,"e":0.01},{"p":"h","t":1.985,"y":0.1014,"e":0.01},{"p":"h","t":2.027,"y":0.121,"e":0.01},{"p":"h","t":2.07,"y":0.1196,"e":0.01},{"p":"h","t":2.11,"y":0.1123,"e":0.01},{"p":"h","t":2.153,"y":0.1196,"e":0.01},{"p":"h","t":2.195,"y":0.105,"e":0.01},{"p":"h","t":2.237,"y":0.121,"e":0.01},{"p":"h","t":2.28,"y":0.116,"e":0.011},{"p":"h","t":2.32,"y":0.094,"e":0.011},{"p":"h","t":2.364,"y":0.123,"e":0.011},{"p":"h","t":2.406,"y":0.1196,"e":0.011},{"p":"h","t":2.45,"y":0.13,"e":0.011},{"p":"h","t":2.49,"y":0.116,"e":0.011},{"p":"h","t":2.533,"y":0.1014,"e":0.011},{"p":"h","t":2.575,"y":0.1087,"e":0.011},{"p":"h","t":2.617,"y":0.1033,"e":0.011},{"p":"h","t":2.66,"y":0.1014,"e":0.011},{"p":"h","t":2.7,"y":0.1123,"e":0.011},{"p":"h","t":2.743,"y":0.0906,"e":0.011},{"p":"h","t":2.786,"y":0.094,"e":0.013},{"p":"h","t":2.828,"y":0.087,"e":0.013},{"p":"h","t":2.87,"y":0.1087,"e":0.013},{"p":"h","t":2.91,"y":0.0996,"e":0.013},{"p":"h","t":2.954,"y":0.116,"e":0.013},{"p":"h","t":2.996,"y":0.125,"e":0.013},{"p":"h","t":3.04,"y":0.1087,"e":0.013},{"p":"h","t":3.08,"y":0.132,"e":0.013},{"p":"h","t":3.12,"y":0.1123,"e":0.013},{"p":"h","t":3.165,"y":0.0833,"e":0.013},{"p":"h","t":3.207,"y":0.1014,"e":0.013},{"p":"h","t":3.24,"y":0.13,"e":0.013},{"p":"h","t":3.283,"y":0.1087,"e":0.014},{"p":"h","t":3.325,"y":0.0797,"e":0.014},{"p":"h","t":3.367,"y":0.123,"e":0.014},{"p":"h","t":3.41,"y":0.1123,"e":0.014},{"p":"h","t":3.46,"y":0.1105,"e":0.014},{"p":"h","t":3.5,"y":0.1014,"e":0.014},{"p":"h","t":3.544,"y":0.116,"e":0.014},{"p":"h","t":3.586,"y":0.105,"e":0.014},{"p":"h","t":3.628,"y":0.0978,"e":0.014},{"p":"h","t":3.67,"y":0.1196,"e":0.014},{"p":"h","t":3.713,"y":0.1286,"e":0.014},{"p":"h","t":3.755,"y":0.116,"e":0.016},{"p":"h","t":3.8,"y":0.1014,"e":0.016},{"p":"h","t":3.84,"y":0.094,"e":0.016},{"p":"h","t":3.88,"y":0.087,"e":0.016},{"p":"h","t":3.92,"y":0.1014,"e":0.016},{"p":"h","t":3.965,"y":0.1105,"e":0.016},{"p":"h","t":4.007,"y":0.107,"e":0.016},{"p":"h","t":4.05,"y":0.116,"e":0.016},{"p":"h","t":4.09,"y":0.121,"e":0.016},{"p":"h","t":4.134,"y":0.1087,"e":0.016},{"p":"h","t":4.176,"y":0.1014,"e":0.016},{"p":"h","t":4.218,"y":0.125,"e":0.016},{"p":"h","t":4.26,"y":0.096,"e":0.018},{"p":"h","t":4.3,"y":0.1123,"e":0.018},{"p":"h","t":4.353,"y":0.0797,"e":0.018},{"p":"h","t":4.395,"y":0.1087,"e":0.018},{"p":"h","t":4.437,"y":0.1196,"e":0.018},{"p":"h","t":4.48,"y":0.076,"e":0.018},
{"p":"h","t":0.26,"y":0.162,"e":0.007},{"p":"h","t":0.285,"y":0.121,"e":0.007},{"p":"h","t":0.36,"y":0.118,"e":0.007},{"p":"h","t":0.39,"y":0.141,"e":0.007},{"p":"h","t":0.44,"y":0.149,"e":0.007},{"p":"h","t":0.48,"y":0.128,"e":0.007},{"p":"h","t":0.53,"y":0.115,"e":0.007},{"p":"h","t":0.57,"y":0.128,"e":0.007},{"p":"h","t":0.61,"y":0.137,"e":0.007},{"p":"h","t":0.65,"y":0.133,"e":0.007},{"p":"h","t":0.695,"y":0.128,"e":0.007},{"p":"h","t":0.73,"y":0.121,"e":0.007},{"p":"h","t":0.775,"y":0.129,"e":0.008},{"p":"h","t":0.82,"y":0.133,"e":0.008},{"p":"h","t":0.86,"y":0.128,"e":0.008},{"p":"h","t":0.9,"y":0.121,"e":0.008},{"p":"h","t":0.95,"y":0.126,"e":0.008},{"p":"h","t":0.985,"y":0.122,"e":0.008},{"p":"h","t":1.03,"y":0.131,"e":0.008},{"p":"h","t":1.07,"y":0.125,"e":0.008},{"p":"h","t":1.12,"y":0.121,"e":0.008},{"p":"h","t":1.16,"y":0.127,"e":0.008},{"p":"h","t":1.2,"y":0.119,"e":0.008},{"p":"h","t":1.25,"y":0.125,"e":0.009},{"p":"h","t":1.29,"y":0.121,"e":0.009},{"p":"h","t":1.33,"y":0.117,"e":0.009},{"p":"h","t":1.37,"y":0.125,"e":0.009},{"p":"h","t":1.42,"y":0.121,"e":0.009},{"p":"h","t":1.46,"y":0.116,"e":0.009},{"p":"h","t":1.5,"y":0.123,"e":0.009},{"p":"h","t":1.54,"y":0.113,"e":0.009},{"p":"h","t":1.58,"y":0.12,"e":0.009},{"p":"h","t":1.63,"y":0.116,"e":0.009},{"p":"h","t":1.67,"y":0.122,"e":0.009},{"p":"h","t":1.71,"y":0.111,"e":0.009},{"p":"h","t":1.75,"y":0.118,"e":0.01},{"p":"h","t":1.8,"y":0.113,"e":0.01},{"p":"h","t":1.84,"y":0.121,"e":0.01},{"p":"h","t":1.88,"y":0.109,"e":0.01},{"p":"h","t":1.92,"y":0.117,"e":0.01},{"p":"h","t":1.96,"y":0.112,"e":0.01},{"p":"h","t":2.0,"y":0.119,"e":0.01},{"p":"h","t":2.05,"y":0.113,"e":0.01},{"p":"h","t":2.09,"y":0.118,"e":0.01},{"p":"h","t":2.13,"y":0.108,"e":0.01},{"p":"h","t":2.17,"y":0.116,"e":0.01},{"p":"h","t":2.22,"y":0.111,"e":0.01},{"p":"h","t":2.26,"y":0.119,"e":0.011},{"p":"h","t":2.3,"y":0.109,"e":0.011},{"p":"h","t":2.34,"y":0.115,"e":0.011},{"p":"h","t":2.38,"y":0.106,"e":0.011},{"p":"h","t":2.43,"y":0.113,"e":0.011},{"p":"h","t":2.47,"y":0.105,"e":0.011},{"p":"h","t":2.51,"y":0.117,"e":0.011},{"p":"h","t":2.55,"y":0.111,"e":0.011},{"p":"h","t":2.6,"y":0.115,"e":0.011},{"p":"h","t":2.64,"y":0.105,"e":0.011},{"p":"h","t":2.68,"y":0.118,"e":0.011},{"p":"h","t":2.72,"y":0.108,"e":0.011},{"p":"h","t":2.76,"y":0.113,"e":0.013},{"p":"h","t":2.81,"y":0.101,"e":0.013},{"p":"h","t":2.85,"y":0.112,"e":0.013},{"p":"h","t":2.89,"y":0.118,"e":0.013},{"p":"h","t":2.93,"y":0.104,"e":0.013},{"p":"h","t":2.97,"y":0.111,"e":0.013},{"p":"h","t":3.02,"y":0.118,"e":0.013},{"p":"h","t":3.06,"y":0.101,"e":0.013},{"p":"h","t":3.1,"y":0.114,"e":0.013},{"p":"h","t":3.14,"y":0.106,"e":0.013},{"p":"h","t":3.19,"y":0.115,"e":0.013},{"p":"h","t":3.22,"y":0.097,"e":0.013},{"p":"h","t":3.26,"y":0.111,"e":0.014},{"p":"h","t":3.3,"y":0.103,"e":0.014},{"p":"h","t":3.35,"y":0.114,"e":0.014},{"p":"h","t":3.39,"y":0.099,"e":0.014},{"p":"h","t":3.44,"y":0.107,"e":0.014},{"p":"h","t":3.48,"y":0.115,"e":0.014},{"p":"h","t":3.52,"y":0.096,"e":0.014},{"p":"h","t":3.57,"y":0.109,"e":0.014},{"p":"h","t":3.61,"y":0.101,"e":0.014},{"p":"h","t":3.65,"y":0.112,"e":0.014},{"p":"h","t":3.69,"y":0.104,"e":0.014},{"p":"h","t":3.73,"y":0.099,"e":0.014},{"p":"h","t":3.78,"y":0.108,"e":0.016},{"p":"h","t":3.82,"y":0.113,"e":0.016},{"p":"h","t":3.86,"y":0.097,"e":0.016},{"p":"h","t":3.9,"y":0.107,"e":0.016},{"p":"h","t":3.94,"y":0.098,"e":0.016},{"p":"h","t":3.99,"y":0.103,"e":0.016},{"p":"h","t":4.03,"y":0.094,"e":0.016},{"p":"h","t":4.07,"y":0.108,"e":0.016},{"p":"h","t":4.11,"y":0.1,"e":0.016},{"p":"h","t":4.16,"y":0.093,"e":0.016},{"p":"h","t":4.2,"y":0.106,"e":0.016},{"p":"h","t":4.24,"y":0.098,"e":0.016},{"p":"h","t":4.28,"y":0.104,"e":0.018},{"p":"h","t":4.33,"y":0.091,"e":0.018},{"p":"h","t":4.37,"y":0.112,"e":0.018},{"p":"h","t":4.42,"y":0.097,"e":0.018},{"p":"h","t":4.46,"y":0.101,"e":0.018},{"p":"h","t":4.49,"y":0.093,"e":0.018}
]
},
"columns":2,"spacing":0,"bounds":"flush",
"concat":[
{"width":356.5,"height":249.5,"resolve":{"axis":{"x":"independent","y":"independent"}},"layer":[
{"data":{"name":"pts"},"transform":[{"filter":"datum.p=='a'"}],"mark":{"type":"errorbar","clip":true,"ticks":{"size":4,"thickness":0.8,"color":"#1a1a1a"},"rule":{"strokeWidth":0.8,"color":"#1a1a1a"}},"encoding":{"x":{"field":"t","type":"quantitative","scale":{"domain":[0,4.5],"nice":false},"axis":null},"y":{"field":"y","type":"quantitative","scale":{"domain":[0,0.27],"nice":false},"axis":null},"yError":{"field":"e"}}},
{"data":{"name":"pts"},"transform":[{"filter":"datum.p=='a'"}],"mark":{"type":"point","clip":true,"shape":"circle","size":12,"filled":true,"fill":"white","stroke":"#222","strokeWidth":0.7,"opacity":1},"encoding":{"x":{"field":"t","type":"quantitative","scale":{"domain":[0,4.5],"nice":false},"axis":{"orient":"top","labels":false,"values":[0,0.5,1,1.5,2,2.5,3,3.5,4,4.5],"title":null}},"y":{"field":"y","type":"quantitative","scale":{"domain":[0,0.27],"nice":false},"axis":{"orient":"right","labels":false,"values":[0,0.05,0.1,0.15,0.2,0.25],"title":null}}}},
{"data":{"name":"fit"},"transform":[{"filter":"datum.p=='a'"}],"mark":{"type":"line","color":"#e52228","strokeWidth":4,"interpolate":"monotone","clip":true},"encoding":{"x":{"field":"t","type":"quantitative","scale":{"domain":[0,4.5],"nice":false},"axis":{"orient":"bottom","labels":false,"values":[0,0.5,1,1.5,2,2.5,3,3.5,4,4.5],"title":null}},"y":{"field":"y","type":"quantitative","scale":{"domain":[0,0.27],"nice":false},"axis":{"orient":"left","values":[0,0.05,0.1,0.15,0.2,0.25],"labelExpr":"abs(datum.value*10-round(datum.value*10))<0.001 ? format(datum.value,'.1f') : ''","title":null}}}},
{"data":{"name":"labels"},"transform":[{"filter":"datum.p=='a'"}],"mark":{"type":"text","align":"left","baseline":"alphabetic","fontSize":24},"encoding":{"x":{"datum":0.115,"type":"quantitative","scale":{"domain":[0,4.5],"nice":false},"axis":null},"y":{"datum":0.006,"type":"quantitative","scale":{"domain":[0,0.27],"nice":false},"axis":null},"text":{"field":"temp"}}},
{"data":{"name":"labels"},"transform":[{"filter":"datum.p=='a'"}],"mark":{"type":"text","align":"right","baseline":"alphabetic","fontSize":24},"encoding":{"x":{"datum":4.41,"type":"quantitative","scale":{"domain":[0,4.5],"nice":false},"axis":null},"y":{"datum":0.006,"type":"quantitative","scale":{"domain":[0,0.27],"nice":false},"axis":null},"text":{"field":"tag"}}},
{"data":{"name":"labels"},"transform":[{"filter":"datum.p=='a'"}],"mark":{"type":"text","align":"right","baseline":"alphabetic","fontSize":28},"encoding":{"x":{"datum":4.35,"type":"quantitative","scale":{"domain":[0,4.5],"nice":false},"axis":null},"y":{"datum":0.2334,"type":"quantitative","scale":{"domain":[0,0.27],"nice":false},"axis":null},"text":{"field":"comp"}}},
{"data":{"name":"labels"},"transform":[{"filter":"datum.p=='a'"}],"mark":{"type":"text","align":"right","baseline":"alphabetic","fontSize":28,"fontStyle":"italic","dx":-71},"encoding":{"x":{"datum":4.35,"type":"quantitative","scale":{"domain":[0,4.5],"nice":false},"axis":null},"y":{"datum":0.2334,"type":"quantitative","scale":{"domain":[0,0.27],"nice":false},"axis":null},"text":{"value":"x"}}}
]},
{"width":356.5,"height":249.5,"resolve":{"axis":{"x":"independent","y":"independent"}},"layer":[
{"data":{"name":"pts"},"transform":[{"filter":"datum.p=='e'"}],"mark":{"type":"errorbar","clip":true,"ticks":{"size":4,"thickness":0.8,"color":"#1a1a1a"},"rule":{"strokeWidth":0.8,"color":"#1a1a1a"}},"encoding":{"x":{"field":"t","type":"quantitative","scale":{"domain":[0,4.5],"nice":false},"axis":null},"y":{"field":"y","type":"quantitative","scale":{"domain":[0,0.27],"nice":false},"axis":null},"yError":{"field":"e"}}},
{"data":{"name":"pts"},"transform":[{"filter":"datum.p=='e'"}],"mark":{"type":"point","clip":true,"shape":"circle","size":12,"filled":true,"fill":"white","stroke":"#222","strokeWidth":0.7,"opacity":1},"encoding":{"x":{"field":"t","type":"quantitative","scale":{"domain":[0,4.5],"nice":false},"axis":{"orient":"top","labels":false,"values":[0,0.5,1,1.5,2,2.5,3,3.5,4,4.5],"title":null}},"y":{"field":"y","type":"quantitative","scale":{"domain":[0,0.27],"nice":false},"axis":{"orient":"right","labels":false,"values":[0,0.05,0.1,0.15,0.2,0.25],"title":null}}}},
{"data":{"name":"fit"},"transform":[{"filter":"datum.p=='e'"}],"mark":{"type":"line","color":"#e52228","strokeWidth":4,"interpolate":"monotone","clip":true},"encoding":{"x":{"field":"t","type":"quantitative","scale":{"domain":[0,4.5],"nice":false},"axis":{"orient":"bottom","labels":false,"values":[0,0.5,1,1.5,2,2.5,3,3.5,4,4.5],"title":null}},"y":{"field":"y","type":"quantitative","scale":{"domain":[0,0.27],"nice":false},"axis":{"orient":"left","labels":false,"values":[0,0.05,0.1,0.15,0.2,0.25],"title":null}}}},
{"data":{"name":"labels"},"transform":[{"filter":"datum.p=='e'"}],"mark":{"type":"text","align":"left","baseline":"alphabetic","fontSize":24},"encoding":{"x":{"datum":0.13,"type":"quantitative","scale":{"domain":[0,4.5],"nice":false},"axis":null},"y":{"datum":0.006,"type":"quantitative","scale":{"domain":[0,0.27],"nice":false},"axis":null},"text":{"field":"temp"}}},
{"data":{"name":"labels"},"transform":[{"filter":"datum.p=='e'"}],"mark":{"type":"text","align":"right","baseline":"alphabetic","fontSize":24},"encoding":{"x":{"datum":4.41,"type":"quantitative","scale":{"domain":[0,4.5],"nice":false},"axis":null},"y":{"datum":0.006,"type":"quantitative","scale":{"domain":[0,0.27],"nice":false},"axis":null},"text":{"field":"tag"}}},
{"data":{"name":"labels"},"transform":[{"filter":"datum.p=='e'"}],"mark":{"type":"text","align":"right","baseline":"alphabetic","fontSize":28},"encoding":{"x":{"datum":4.33,"type":"quantitative","scale":{"domain":[0,4.5],"nice":false},"axis":null},"y":{"datum":0.2334,"type":"quantitative","scale":{"domain":[0,0.27],"nice":false},"axis":null},"text":{"field":"comp"}}},
{"data":{"name":"labels"},"transform":[{"filter":"datum.p=='e'"}],"mark":{"type":"text","align":"right","baseline":"alphabetic","fontSize":28,"fontStyle":"italic","dx":-71},"encoding":{"x":{"datum":4.33,"type":"quantitative","scale":{"domain":[0,4.5],"nice":false},"axis":null},"y":{"datum":0.2334,"type":"quantitative","scale":{"domain":[0,0.27],"nice":false},"axis":null},"text":{"value":"x"}}}
]},
{"width":356.5,"height":249.5,"resolve":{"axis":{"x":"independent","y":"independent"}},"layer":[
{"data":{"name":"pts"},"transform":[{"filter":"datum.p=='b'"}],"mark":{"type":"errorbar","clip":true,"ticks":{"size":4,"thickness":0.8,"color":"#1a1a1a"},"rule":{"strokeWidth":0.8,"color":"#1a1a1a"}},"encoding":{"x":{"field":"t","type":"quantitative","scale":{"domain":[0,4.5],"nice":false},"axis":null},"y":{"field":"y","type":"quantitative","scale":{"domain":[0,0.27],"nice":false},"axis":null},"yError":{"field":"e"}}},
{"data":{"name":"pts"},"transform":[{"filter":"datum.p=='b'"}],"mark":{"type":"point","clip":true,"shape":"circle","size":12,"filled":true,"fill":"white","stroke":"#222","strokeWidth":0.7,"opacity":1},"encoding":{"x":{"field":"t","type":"quantitative","scale":{"domain":[0,4.5],"nice":false},"axis":{"orient":"top","labels":false,"values":[0,0.5,1,1.5,2,2.5,3,3.5,4,4.5],"title":null}},"y":{"field":"y","type":"quantitative","scale":{"domain":[0,0.27],"nice":false},"axis":{"orient":"right","labels":false,"values":[0,0.05,0.1,0.15,0.2,0.25],"title":null}}}},
{"data":{"name":"fit"},"transform":[{"filter":"datum.p=='b'"}],"mark":{"type":"line","color":"#e52228","strokeWidth":4,"interpolate":"monotone","clip":true},"encoding":{"x":{"field":"t","type":"quantitative","scale":{"domain":[0,4.5],"nice":false},"axis":{"orient":"bottom","labels":false,"values":[0,0.5,1,1.5,2,2.5,3,3.5,4,4.5],"title":null}},"y":{"field":"y","type":"quantitative","scale":{"domain":[0,0.27],"nice":false},"axis":{"orient":"left","values":[0,0.05,0.1,0.15,0.2,0.25],"labelExpr":"abs(datum.value*10-round(datum.value*10))<0.001 ? format(datum.value,'.1f') : ''","title":"asymmetry","titleAnchor":"start","titleAlign":"center","titlePadding":8}}}},
{"data":{"name":"labels"},"transform":[{"filter":"datum.p=='b'"}],"mark":{"type":"text","align":"left","baseline":"alphabetic","fontSize":24},"encoding":{"x":{"datum":0.115,"type":"quantitative","scale":{"domain":[0,4.5],"nice":false},"axis":null},"y":{"datum":0.006,"type":"quantitative","scale":{"domain":[0,0.27],"nice":false},"axis":null},"text":{"field":"temp"}}},
{"data":{"name":"labels"},"transform":[{"filter":"datum.p=='b'"}],"mark":{"type":"text","align":"right","baseline":"alphabetic","fontSize":24},"encoding":{"x":{"datum":4.41,"type":"quantitative","scale":{"domain":[0,4.5],"nice":false},"axis":null},"y":{"datum":0.006,"type":"quantitative","scale":{"domain":[0,0.27],"nice":false},"axis":null},"text":{"field":"tag"}}}
]},
{"width":356.5,"height":249.5,"resolve":{"axis":{"x":"independent","y":"independent"}},"layer":[
{"data":{"name":"pts"},"transform":[{"filter":"datum.p=='f'"}],"mark":{"type":"errorbar","clip":true,"ticks":{"size":4,"thickness":0.8,"color":"#1a1a1a"},"rule":{"strokeWidth":0.8,"color":"#1a1a1a"}},"encoding":{"x":{"field":"t","type":"quantitative","scale":{"domain":[0,4.5],"nice":false},"axis":null},"y":{"field":"y","type":"quantitative","scale":{"domain":[0,0.27],"nice":false},"axis":null},"yError":{"field":"e"}}},
{"data":{"name":"pts"},"transform":[{"filter":"datum.p=='f'"}],"mark":{"type":"point","clip":true,"shape":"circle","size":12,"filled":true,"fill":"white","stroke":"#222","strokeWidth":0.7,"opacity":1},"encoding":{"x":{"field":"t","type":"quantitative","scale":{"domain":[0,4.5],"nice":false},"axis":{"orient":"top","labels":false,"values":[0,0.5,1,1.5,2,2.5,3,3.5,4,4.5],"title":null}},"y":{"field":"y","type":"quantitative","scale":{"domain":[0,0.27],"nice":false},"axis":{"orient":"right","labels":false,"values":[0,0.05,0.1,0.15,0.2,0.25],"title":null}}}},
{"data":{"name":"fit"},"transform":[{"filter":"datum.p=='f'"}],"mark":{"type":"line","color":"#e52228","strokeWidth":4,"interpolate":"monotone","clip":true},"encoding":{"x":{"field":"t","type":"quantitative","scale":{"domain":[0,4.5],"nice":false},"axis":{"orient":"bottom","labels":false,"values":[0,0.5,1,1.5,2,2.5,3,3.5,4,4.5],"title":null}},"y":{"field":"y","type":"quantitative","scale":{"domain":[0,0.27],"nice":false},"axis":{"orient":"left","labels":false,"values":[0,0.05,0.1,0.15,0.2,0.25],"title":null}}}},
{"data":{"name":"labels"},"transform":[{"filter":"datum.p=='f'"}],"mark":{"type":"text","align":"left","baseline":"alphabetic","fontSize":24},"encoding":{"x":{"datum":0.13,"type":"quantitative","scale":{"domain":[0,4.5],"nice":false},"axis":null},"y":{"datum":0.006,"type":"quantitative","scale":{"domain":[0,0.27],"nice":false},"axis":null},"text":{"field":"temp"}}},
{"data":{"name":"labels"},"transform":[{"filter":"datum.p=='f'"}],"mark":{"type":"text","align":"right","baseline":"alphabetic","fontSize":24},"encoding":{"x":{"datum":4.41,"type":"quantitative","scale":{"domain":[0,4.5],"nice":false},"axis":null},"y":{"datum":0.006,"type":"quantitative","scale":{"domain":[0,0.27],"nice":false},"axis":null},"text":{"field":"tag"}}}
]},
{"width":356.5,"height":249.5,"resolve":{"axis":{"x":"independent","y":"independent"}},"layer":[
{"data":{"name":"pts"},"transform":[{"filter":"datum.p=='c'"}],"mark":{"type":"errorbar","clip":true,"ticks":{"size":4,"thickness":0.8,"color":"#1a1a1a"},"rule":{"strokeWidth":0.8,"color":"#1a1a1a"}},"encoding":{"x":{"field":"t","type":"quantitative","scale":{"domain":[0,4.5],"nice":false},"axis":null},"y":{"field":"y","type":"quantitative","scale":{"domain":[0,0.27],"nice":false},"axis":null},"yError":{"field":"e"}}},
{"data":{"name":"pts"},"transform":[{"filter":"datum.p=='c'"}],"mark":{"type":"point","clip":true,"shape":"circle","size":12,"filled":true,"fill":"white","stroke":"#222","strokeWidth":0.7,"opacity":1},"encoding":{"x":{"field":"t","type":"quantitative","scale":{"domain":[0,4.5],"nice":false},"axis":{"orient":"top","labels":false,"values":[0,0.5,1,1.5,2,2.5,3,3.5,4,4.5],"title":null}},"y":{"field":"y","type":"quantitative","scale":{"domain":[0,0.27],"nice":false},"axis":{"orient":"right","labels":false,"values":[0,0.05,0.1,0.15,0.2,0.25],"title":null}}}},
{"data":{"name":"fit"},"transform":[{"filter":"datum.p=='c'"}],"mark":{"type":"line","color":"#e52228","strokeWidth":4,"interpolate":"monotone","clip":true},"encoding":{"x":{"field":"t","type":"quantitative","scale":{"domain":[0,4.5],"nice":false},"axis":{"orient":"bottom","labels":false,"values":[0,0.5,1,1.5,2,2.5,3,3.5,4,4.5],"title":null}},"y":{"field":"y","type":"quantitative","scale":{"domain":[0,0.27],"nice":false},"axis":{"orient":"left","values":[0,0.05,0.1,0.15,0.2,0.25],"labelExpr":"abs(datum.value*10-round(datum.value*10))<0.001 ? format(datum.value,'.1f') : ''","title":null}}}},
{"data":{"name":"labels"},"transform":[{"filter":"datum.p=='c'"}],"mark":{"type":"text","align":"left","baseline":"alphabetic","fontSize":24},"encoding":{"x":{"datum":0.115,"type":"quantitative","scale":{"domain":[0,4.5],"nice":false},"axis":null},"y":{"datum":0.006,"type":"quantitative","scale":{"domain":[0,0.27],"nice":false},"axis":null},"text":{"field":"temp"}}},
{"data":{"name":"labels"},"transform":[{"filter":"datum.p=='c'"}],"mark":{"type":"text","align":"right","baseline":"alphabetic","fontSize":24},"encoding":{"x":{"datum":4.41,"type":"quantitative","scale":{"domain":[0,4.5],"nice":false},"axis":null},"y":{"datum":0.006,"type":"quantitative","scale":{"domain":[0,0.27],"nice":false},"axis":null},"text":{"field":"tag"}}}
]},
{"width":356.5,"height":249.5,"resolve":{"axis":{"x":"independent","y":"independent"}},"layer":[
{"data":{"name":"pts"},"transform":[{"filter":"datum.p=='g'"}],"mark":{"type":"errorbar","clip":true,"ticks":{"size":4,"thickness":0.8,"color":"#1a1a1a"},"rule":{"strokeWidth":0.8,"color":"#1a1a1a"}},"encoding":{"x":{"field":"t","type":"quantitative","scale":{"domain":[0,4.5],"nice":false},"axis":null},"y":{"field":"y","type":"quantitative","scale":{"domain":[0,0.27],"nice":false},"axis":null},"yError":{"field":"e"}}},
{"data":{"name":"pts"},"transform":[{"filter":"datum.p=='g'"}],"mark":{"type":"point","clip":true,"shape":"circle","size":12,"filled":true,"fill":"white","stroke":"#222","strokeWidth":0.7,"opacity":1},"encoding":{"x":{"field":"t","type":"quantitative","scale":{"domain":[0,4.5],"nice":false},"axis":{"orient":"top","labels":false,"values":[0,0.5,1,1.5,2,2.5,3,3.5,4,4.5],"title":null}},"y":{"field":"y","type":"quantitative","scale":{"domain":[0,0.27],"nice":false},"axis":{"orient":"right","labels":false,"values":[0,0.05,0.1,0.15,0.2,0.25],"title":null}}}},
{"data":{"name":"fit"},"transform":[{"filter":"datum.p=='g'"}],"mark":{"type":"line","color":"#e52228","strokeWidth":4,"interpolate":"monotone","clip":true},"encoding":{"x":{"field":"t","type":"quantitative","scale":{"domain":[0,4.5],"nice":false},"axis":{"orient":"bottom","labels":false,"values":[0,0.5,1,1.5,2,2.5,3,3.5,4,4.5],"title":null}},"y":{"field":"y","type":"quantitative","scale":{"domain":[0,0.27],"nice":false},"axis":{"orient":"left","labels":false,"values":[0,0.05,0.1,0.15,0.2,0.25],"title":null}}}},
{"data":{"name":"labels"},"transform":[{"filter":"datum.p=='g'"}],"mark":{"type":"text","align":"left","baseline":"alphabetic","fontSize":24},"encoding":{"x":{"datum":0.13,"type":"quantitative","scale":{"domain":[0,4.5],"nice":false},"axis":null},"y":{"datum":0.006,"type":"quantitative","scale":{"domain":[0,0.27],"nice":false},"axis":null},"text":{"field":"temp"}}},
{"data":{"name":"labels"},"transform":[{"filter":"datum.p=='g'"}],"mark":{"type":"text","align":"right","baseline":"alphabetic","fontSize":24},"encoding":{"x":{"datum":4.41,"type":"quantitative","scale":{"domain":[0,4.5],"nice":false},"axis":null},"y":{"datum":0.006,"type":"quantitative","scale":{"domain":[0,0.27],"nice":false},"axis":null},"text":{"field":"tag"}}}
]},
{"width":356.5,"height":249.5,"resolve":{"axis":{"x":"independent","y":"independent"}},"layer":[
{"data":{"name":"pts"},"transform":[{"filter":"datum.p=='d'"}],"mark":{"type":"errorbar","clip":true,"ticks":{"size":4,"thickness":0.8,"color":"#1a1a1a"},"rule":{"strokeWidth":0.8,"color":"#1a1a1a"}},"encoding":{"x":{"field":"t","type":"quantitative","scale":{"domain":[0,4.5],"nice":false},"axis":null},"y":{"field":"y","type":"quantitative","scale":{"domain":[0,0.27],"nice":false},"axis":null},"yError":{"field":"e"}}},
{"data":{"name":"pts"},"transform":[{"filter":"datum.p=='d'"}],"mark":{"type":"point","clip":true,"shape":"circle","size":12,"filled":true,"fill":"white","stroke":"#222","strokeWidth":0.7,"opacity":1},"encoding":{"x":{"field":"t","type":"quantitative","scale":{"domain":[0,4.5],"nice":false},"axis":{"orient":"top","labels":false,"values":[0,0.5,1,1.5,2,2.5,3,3.5,4,4.5],"title":null}},"y":{"field":"y","type":"quantitative","scale":{"domain":[0,0.27],"nice":false},"axis":{"orient":"right","labels":false,"values":[0,0.05,0.1,0.15,0.2,0.25],"title":null}}}},
{"data":{"name":"fit"},"transform":[{"filter":"datum.p=='d'"}],"mark":{"type":"line","color":"#e52228","strokeWidth":4,"interpolate":"monotone","clip":true},"encoding":{"x":{"field":"t","type":"quantitative","scale":{"domain":[0,4.5],"nice":false},"axis":{"orient":"bottom","values":[0,0.5,1,1.5,2,2.5,3,3.5,4,4.5],"labelExpr":"datum.value % 1 == 0 ? format(datum.value,'d') : ''","title":"time (µs)","titleAnchor":"end","titleAlign":"center","titlePadding":9}},"y":{"field":"y","type":"quantitative","scale":{"domain":[0,0.27],"nice":false},"axis":{"orient":"left","values":[0,0.05,0.1,0.15,0.2,0.25],"labelExpr":"abs(datum.value*10-round(datum.value*10))<0.001 ? format(datum.value,'.1f') : ''","title":null}}}},
{"data":{"name":"labels"},"transform":[{"filter":"datum.p=='d'"}],"mark":{"type":"text","align":"left","baseline":"alphabetic","fontSize":24},"encoding":{"x":{"datum":0.115,"type":"quantitative","scale":{"domain":[0,4.5],"nice":false},"axis":null},"y":{"datum":0.006,"type":"quantitative","scale":{"domain":[0,0.27],"nice":false},"axis":null},"text":{"field":"temp"}}},
{"data":{"name":"labels"},"transform":[{"filter":"datum.p=='d'"}],"mark":{"type":"text","align":"right","baseline":"alphabetic","fontSize":24},"encoding":{"x":{"datum":4.41,"type":"quantitative","scale":{"domain":[0,4.5],"nice":false},"axis":null},"y":{"datum":0.006,"type":"quantitative","scale":{"domain":[0,0.27],"nice":false},"axis":null},"text":{"field":"tag"}}}
]},
{"width":356.5,"height":249.5,"resolve":{"axis":{"x":"independent","y":"independent"}},"layer":[
{"data":{"name":"pts"},"transform":[{"filter":"datum.p=='h'"}],"mark":{"type":"errorbar","clip":true,"ticks":{"size":4,"thickness":0.8,"color":"#1a1a1a"},"rule":{"strokeWidth":0.8,"color":"#1a1a1a"}},"encoding":{"x":{"field":"t","type":"quantitative","scale":{"domain":[0,4.5],"nice":false},"axis":null},"y":{"field":"y","type":"quantitative","scale":{"domain":[0,0.27],"nice":false},"axis":null},"yError":{"field":"e"}}},
{"data":{"name":"pts"},"transform":[{"filter":"datum.p=='h'"}],"mark":{"type":"point","clip":true,"shape":"circle","size":12,"filled":true,"fill":"white","stroke":"#222","strokeWidth":0.7,"opacity":1},"encoding":{"x":{"field":"t","type":"quantitative","scale":{"domain":[0,4.5],"nice":false},"axis":{"orient":"top","labels":false,"values":[0,0.5,1,1.5,2,2.5,3,3.5,4,4.5],"title":null}},"y":{"field":"y","type":"quantitative","scale":{"domain":[0,0.27],"nice":false},"axis":{"orient":"right","labels":false,"values":[0,0.05,0.1,0.15,0.2,0.25],"title":null}}}},
{"data":{"name":"fit"},"transform":[{"filter":"datum.p=='h'"}],"mark":{"type":"line","color":"#e52228","strokeWidth":4,"interpolate":"monotone","clip":true},"encoding":{"x":{"field":"t","type":"quantitative","scale":{"domain":[0,4.5],"nice":false},"axis":{"orient":"bottom","values":[0,0.5,1,1.5,2,2.5,3,3.5,4,4.5],"labelExpr":"datum.value % 1 == 0 ? format(datum.value,'d') : ''","title":null}},"y":{"field":"y","type":"quantitative","scale":{"domain":[0,0.27],"nice":false},"axis":{"orient":"left","labels":false,"values":[0,0.05,0.1,0.15,0.2,0.25],"title":null}}}},
{"data":{"name":"labels"},"transform":[{"filter":"datum.p=='h'"}],"mark":{"type":"text","align":"left","baseline":"alphabetic","fontSize":24},"encoding":{"x":{"datum":0.12,"type":"quantitative","scale":{"domain":[0,4.5],"nice":false},"axis":null},"y":{"datum":0.006,"type":"quantitative","scale":{"domain":[0,0.27],"nice":false},"axis":null},"text":{"field":"temp"}}},
{"data":{"name":"labels"},"transform":[{"filter":"datum.p=='h'"}],"mark":{"type":"text","align":"right","baseline":"alphabetic","fontSize":24},"encoding":{"x":{"datum":4.41,"type":"quantitative","scale":{"domain":[0,4.5],"nice":false},"axis":null},"y":{"datum":0.006,"type":"quantitative","scale":{"domain":[0,0.27],"nice":false},"axis":null},"text":{"field":"tag"}}}
]}
]
}
